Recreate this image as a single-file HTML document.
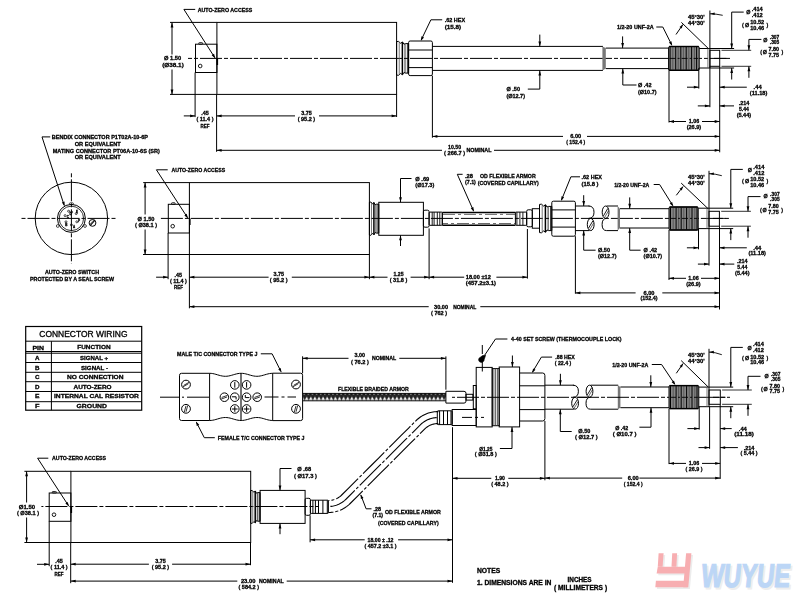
<!DOCTYPE html>
<html><head><meta charset="utf-8"><style>
html,body{margin:0;padding:0;background:#fff;}
svg{display:block;}
text{font-family:"Liberation Sans",sans-serif;}
</style></head><body>
<svg width="796" height="609" viewBox="0 0 796 609">
<rect x="0" y="0" width="796" height="609" fill="#fff"/>
<g style="filter:grayscale(1)">
<rect x="216.9" y="22.4" width="179.7" height="72" rx="0" fill="none" stroke="#000" stroke-width="1.0"/>
<line x1="170" y1="22.4" x2="216.9" y2="22.4" stroke="#000" stroke-width="1.0" />
<line x1="170" y1="94.4" x2="216.9" y2="94.4" stroke="#000" stroke-width="1.0" />
<line x1="172" y1="22.4" x2="172" y2="54.5" stroke="#000" stroke-width="1.0" />
<polygon points="172,22.4 173.4,27.4 170.6,27.4" fill="#000" stroke="none" stroke-width="1.0"/>
<line x1="172" y1="69.5" x2="172" y2="94.4" stroke="#000" stroke-width="1.0" />
<polygon points="172,94.4 170.6,89.4 173.4,89.4" fill="#000" stroke="none" stroke-width="1.0"/>
<text x="172.6" y="60.03" font-size="5.8" font-weight="bold" text-anchor="middle" textLength="17.2" lengthAdjust="spacingAndGlyphs" fill="#000" stroke="#000" stroke-width="0.3" >Ø 1.50</text>
<text x="173" y="66.73" font-size="5.8" font-weight="bold" text-anchor="middle" textLength="21.5" lengthAdjust="spacingAndGlyphs" fill="#000" stroke="#000" stroke-width="0.3" >(Ø38.1)</text>
<rect x="195.5" y="44.2" width="21.4" height="28.3" rx="0" fill="none" stroke="#000" stroke-width="1.0"/>
<rect x="198.7" y="42.6" width="4" height="1.6" rx="0.8" fill="none" stroke="#000" stroke-width="0.8"/>
<circle cx="200.2" cy="66" r="1.8" fill="none" stroke="#000" stroke-width="0.9"/>
<line x1="217.3" y1="58.4" x2="217.3" y2="65" stroke="#000" stroke-width="1.6" />
<line x1="188" y1="58.4" x2="730" y2="58.4" stroke="#000" stroke-width="1.0" stroke-dasharray="22 2 4 2" stroke-dashoffset="-12"/>
<polyline points="195.2,9.4 183.9,9.4 214.8,57.6" fill="none" stroke="#000" stroke-width="1.0" />
<polygon points="215.3,58.4 211.69,55.37 214.05,53.86" fill="#000" stroke="none" stroke-width="1.0"/>
<text x="197.7" y="12.03" font-size="5.8" font-weight="bold" text-anchor="start" textLength="54.6" lengthAdjust="spacingAndGlyphs" fill="#000" stroke="#000" stroke-width="0.3" >AUTO-ZERO ACCESS</text>
<path d="M 396.6 41.6 L 398.52 41.4 L 400.68 43.3 L 402.48 41.9 L 403.92 44.2 L 405.48 43.6 L 408.6 43.6 L 408.6 73.1 L 405.48 73.1 L 403.92 72.5 L 402.48 74.8 L 400.68 73.4 L 398.52 75.3 L 396.6 75.1 Z" fill="none" stroke="#000" stroke-width="1.0" stroke-linejoin="round"/>
<line x1="399.24" y1="42.03" x2="399.24" y2="74.67" stroke="#555" stroke-width="0.8" />
<line x1="402.36" y1="41.99" x2="402.36" y2="74.71" stroke="#000" stroke-width="1.5" />
<line x1="405" y1="43.78" x2="405" y2="72.92" stroke="#000" stroke-width="0.8" />
<line x1="407.4" y1="43.6" x2="407.4" y2="73.1" stroke="#000" stroke-width="0.8" />
<rect x="408.6" y="41" width="23.8" height="34.6" rx="1.5" fill="none" stroke="#000" stroke-width="1.0"/>
<line x1="408.6" y1="50" x2="432.4" y2="50" stroke="#000" stroke-width="1.0" />
<line x1="408.6" y1="67.6" x2="432.4" y2="67.6" stroke="#000" stroke-width="1.0" />
<line x1="432.4" y1="46.4" x2="603" y2="46.4" stroke="#000" stroke-width="1.0" />
<line x1="432.4" y1="70.4" x2="603" y2="70.4" stroke="#000" stroke-width="1.0" />
<polygon points="602.4,46.4 605.8,48.1 605.8,68.6 602.4,70.4" fill="#777" stroke="none" stroke-width="1.0"/>
<line x1="605.8" y1="48.1" x2="669" y2="48.1" stroke="#000" stroke-width="1.0" />
<line x1="605.8" y1="68.6" x2="669" y2="68.6" stroke="#000" stroke-width="1.0" />
<polyline points="442.2,19.8 430.9,19.8 421.2,40" fill="none" stroke="#000" stroke-width="1.0" />
<polygon points="420.8,40.9 421.49,36.24 424.01,37.45" fill="#000" stroke="none" stroke-width="1.0"/>
<text x="444.7" y="22.33" font-size="5.8" font-weight="bold" text-anchor="start" textLength="20.5" lengthAdjust="spacingAndGlyphs" fill="#000" stroke="#000" stroke-width="0.3" >.62 HEX</text>
<text x="444.7" y="28.63" font-size="5.8" font-weight="bold" text-anchor="start" textLength="16.5" lengthAdjust="spacingAndGlyphs" fill="#000" stroke="#000" stroke-width="0.3" >(15.8)</text>
<line x1="539.8" y1="34.6" x2="539.8" y2="46.4" stroke="#000" stroke-width="1.0" />
<polygon points="539.8,46.4 538.4,41.4 541.2,41.4" fill="#000" stroke="none" stroke-width="1.0"/>
<line x1="539.8" y1="70.4" x2="539.8" y2="89.1" stroke="#000" stroke-width="1.0" />
<polygon points="539.8,70.4 541.2,75.4 538.4,75.4" fill="#000" stroke="none" stroke-width="1.0"/>
<line x1="527.8" y1="89.1" x2="539.8" y2="89.1" stroke="#000" stroke-width="1.0" />
<text x="506.4" y="91.13" font-size="5.8" font-weight="bold" text-anchor="start" textLength="13.6" lengthAdjust="spacingAndGlyphs" fill="#000" stroke="#000" stroke-width="0.3" >Ø .50</text>
<text x="506.4" y="97.63" font-size="5.8" font-weight="bold" text-anchor="start" textLength="18.6" lengthAdjust="spacingAndGlyphs" fill="#000" stroke="#000" stroke-width="0.3" >(Ø12.7)</text>
<line x1="622.6" y1="36.4" x2="622.6" y2="48.1" stroke="#000" stroke-width="1.0" />
<polygon points="622.6,48.1 621.2,43.1 624,43.1" fill="#000" stroke="none" stroke-width="1.0"/>
<line x1="622.8" y1="68.6" x2="622.8" y2="85" stroke="#000" stroke-width="1.0" />
<polygon points="622.8,68.6 624.2,73.6 621.4,73.6" fill="#000" stroke="none" stroke-width="1.0"/>
<line x1="622.8" y1="85" x2="636.5" y2="85" stroke="#000" stroke-width="1.0" />
<text x="638" y="87.03" font-size="5.8" font-weight="bold" text-anchor="start" textLength="13.5" lengthAdjust="spacingAndGlyphs" fill="#000" stroke="#000" stroke-width="0.3" >Ø .42</text>
<text x="638" y="93.83" font-size="5.8" font-weight="bold" text-anchor="start" textLength="18.5" lengthAdjust="spacingAndGlyphs" fill="#000" stroke="#000" stroke-width="0.3" >(Ø10.7)</text>
<text x="617" y="29.03" font-size="5.8" font-weight="bold" text-anchor="start" textLength="36.8" lengthAdjust="spacingAndGlyphs" fill="#000" stroke="#000" stroke-width="0.3" >1/2-20 UNF-2A</text>
<polyline points="656.3,27 662.8,27 671.6,44.6" fill="none" stroke="#000" stroke-width="1.0" />
<polygon points="672.2,45.9 668.94,42.49 671.45,41.25" fill="#000" stroke="none" stroke-width="1.0"/>
<rect x="668.6" y="46.5" width="30.6" height="23.8" rx="1.2" fill="#858585" stroke="#000" stroke-width="1.0"/>
<line x1="670.1" y1="47" x2="670.1" y2="69.8" stroke="#000" stroke-width="1.0" />
<line x1="672.8" y1="47" x2="672.8" y2="69.8" stroke="#444" stroke-width="0.7" />
<line x1="675.7" y1="47" x2="675.7" y2="69.8" stroke="#000" stroke-width="1.0" />
<line x1="678.2" y1="47" x2="678.2" y2="69.8" stroke="#444" stroke-width="0.7" />
<line x1="680.8" y1="47" x2="680.8" y2="69.8" stroke="#000" stroke-width="1.0" />
<line x1="683.4" y1="47" x2="683.4" y2="69.8" stroke="#444" stroke-width="0.7" />
<line x1="686.2" y1="47" x2="686.2" y2="69.8" stroke="#000" stroke-width="1.0" />
<line x1="688.8" y1="47" x2="688.8" y2="69.8" stroke="#444" stroke-width="0.7" />
<line x1="691.6" y1="47" x2="691.6" y2="69.8" stroke="#000" stroke-width="1.0" />
<line x1="694.4" y1="47" x2="694.4" y2="69.8" stroke="#444" stroke-width="0.7" />
<line x1="696.6" y1="47" x2="696.6" y2="69.8" stroke="#000" stroke-width="1.0" />
<line x1="669.1" y1="46.5" x2="698.7" y2="46.5" stroke="#000" stroke-width="1.4" />
<line x1="669.1" y1="70.3" x2="698.7" y2="70.3" stroke="#000" stroke-width="1.4" />
<line x1="669.6" y1="58.4" x2="698.2" y2="58.4" stroke="#000" stroke-width="0.9" stroke-dasharray="6 2 2 2"/>
<line x1="699.2" y1="48.5" x2="709.9" y2="48.5" stroke="#000" stroke-width="1.0" />
<line x1="699.2" y1="68" x2="709.9" y2="68" stroke="#000" stroke-width="1.0" />
<line x1="707.9" y1="48.5" x2="707.9" y2="68" stroke="#555" stroke-width="0.8" />
<rect x="709.9" y="50.3" width="9.8" height="16" rx="0" fill="none" stroke="#000" stroke-width="1.0"/>
<line x1="709.9" y1="48.5" x2="734.1" y2="48.5" stroke="#000" stroke-width="1.0" />
<line x1="709.9" y1="68" x2="734.1" y2="68" stroke="#000" stroke-width="1.0" />
<line x1="721.5" y1="50.3" x2="751.2" y2="50.3" stroke="#333" stroke-width="1.0" />
<line x1="721.5" y1="66.3" x2="751.2" y2="66.3" stroke="#333" stroke-width="1.0" />
<line x1="713.9" y1="58.4" x2="726.4" y2="58.4" stroke="#000" stroke-width="0.9" />
<line x1="731.7" y1="12.1" x2="731.7" y2="48.5" stroke="#000" stroke-width="1.0" />
<polygon points="731.7,48.5 730.3,43.5 733.1,43.5" fill="#000" stroke="none" stroke-width="1.0"/>
<line x1="731.7" y1="12.1" x2="743.7" y2="12.1" stroke="#000" stroke-width="1.0" />
<line x1="731.7" y1="68" x2="731.7" y2="79.5" stroke="#000" stroke-width="1.0" />
<polygon points="731.7,68 733.1,73 730.3,73" fill="#000" stroke="none" stroke-width="1.0"/>
<line x1="748.9" y1="39.4" x2="748.9" y2="50.3" stroke="#000" stroke-width="1.0" />
<polygon points="748.9,50.3 747.5,45.3 750.3,45.3" fill="#000" stroke="none" stroke-width="1.0"/>
<line x1="748.9" y1="39.4" x2="761.4" y2="39.4" stroke="#000" stroke-width="1.0" />
<line x1="748.9" y1="66.3" x2="748.9" y2="77.8" stroke="#000" stroke-width="1.0" />
<polygon points="748.9,66.3 750.3,71.3 747.5,71.3" fill="#000" stroke="none" stroke-width="1.0"/>
<line x1="681.4" y1="22.4" x2="708" y2="48.2" stroke="#000" stroke-width="1.0" />
<line x1="676" y1="34.5" x2="682.9" y2="24.5" stroke="#000" stroke-width="1.0" />
<polygon points="682.9,24.5 681.78,28.59 679.48,27" fill="#000" stroke="none" stroke-width="1.0"/>
<path d="M 709.9 13.8 Q 715.9 13.8 722.7 15.3" fill="none" stroke="#000" stroke-width="0.9" />
<polygon points="710.2,13.8 714.7,12.5 714.7,15.1" fill="#000" stroke="none" stroke-width="1.0"/>
<line x1="709.9" y1="10.5" x2="709.9" y2="68" stroke="#000" stroke-width="1.0" />
<text x="688" y="19.16" font-size="5.6" font-weight="bold" text-anchor="start" textLength="16.7" lengthAdjust="spacingAndGlyphs" fill="#000" stroke="#000" stroke-width="0.3" >45°30'</text>
<text x="688" y="25.06" font-size="5.6" font-weight="bold" text-anchor="start" textLength="16.7" lengthAdjust="spacingAndGlyphs" fill="#000" stroke="#000" stroke-width="0.3" >44°30'</text>
<text x="746.2" y="14.2" font-size="6" font-weight="bold" text-anchor="start" textLength="4.2" lengthAdjust="spacingAndGlyphs" fill="#000" stroke="#000" stroke-width="0.3" >Ø</text>
<text x="751.7" y="11.46" font-size="5.6" font-weight="bold" text-anchor="start" textLength="11" lengthAdjust="spacingAndGlyphs" fill="#000" stroke="#000" stroke-width="0.3" >.414</text>
<text x="751.7" y="17.26" font-size="5.6" font-weight="bold" text-anchor="start" textLength="11" lengthAdjust="spacingAndGlyphs" fill="#000" stroke="#000" stroke-width="0.3" >.412</text>
<text x="741.9" y="26.77" font-size="6.2" font-weight="bold" text-anchor="start" textLength="1.8" lengthAdjust="spacingAndGlyphs" fill="#000" stroke="#000" stroke-width="0.3" >(</text>
<text x="744.9" y="26.7" font-size="6" font-weight="bold" text-anchor="start" textLength="4.2" lengthAdjust="spacingAndGlyphs" fill="#000" stroke="#000" stroke-width="0.3" >Ø</text>
<text x="750.2" y="24.26" font-size="5.6" font-weight="bold" text-anchor="start" textLength="14" lengthAdjust="spacingAndGlyphs" fill="#000" stroke="#000" stroke-width="0.3" >10.52</text>
<text x="750.2" y="29.86" font-size="5.6" font-weight="bold" text-anchor="start" textLength="14" lengthAdjust="spacingAndGlyphs" fill="#000" stroke="#000" stroke-width="0.3" >10.46</text>
<text x="766.5" y="26.77" font-size="6.2" font-weight="bold" text-anchor="start" textLength="1.8" lengthAdjust="spacingAndGlyphs" fill="#000" stroke="#000" stroke-width="0.3" >)</text>
<text x="763.2" y="42.3" font-size="6" font-weight="bold" text-anchor="start" textLength="4.2" lengthAdjust="spacingAndGlyphs" fill="#000" stroke="#000" stroke-width="0.3" >Ø</text>
<text x="769.8" y="39.36" font-size="5.6" font-weight="bold" text-anchor="start" textLength="9.5" lengthAdjust="spacingAndGlyphs" fill="#000" stroke="#000" stroke-width="0.3" >.307</text>
<text x="769.8" y="44.36" font-size="5.6" font-weight="bold" text-anchor="start" textLength="9.5" lengthAdjust="spacingAndGlyphs" fill="#000" stroke="#000" stroke-width="0.3" >.305</text>
<text x="760.2" y="54.47" font-size="6.2" font-weight="bold" text-anchor="start" textLength="1.8" lengthAdjust="spacingAndGlyphs" fill="#000" stroke="#000" stroke-width="0.3" >(</text>
<text x="762.7" y="54.4" font-size="6" font-weight="bold" text-anchor="start" textLength="4.2" lengthAdjust="spacingAndGlyphs" fill="#000" stroke="#000" stroke-width="0.3" >Ø</text>
<text x="768.5" y="51.16" font-size="5.6" font-weight="bold" text-anchor="start" textLength="10.5" lengthAdjust="spacingAndGlyphs" fill="#000" stroke="#000" stroke-width="0.3" >7.80</text>
<text x="768.5" y="57.06" font-size="5.6" font-weight="bold" text-anchor="start" textLength="10.5" lengthAdjust="spacingAndGlyphs" fill="#000" stroke="#000" stroke-width="0.3" >7.75</text>
<text x="781.6" y="54.47" font-size="6.2" font-weight="bold" text-anchor="start" textLength="1.8" lengthAdjust="spacingAndGlyphs" fill="#000" stroke="#000" stroke-width="0.3" >)</text>
<line x1="195.1" y1="72.5" x2="195.1" y2="117.1" stroke="#000" stroke-width="1.0" />
<line x1="216.6" y1="94.4" x2="216.6" y2="151.8" stroke="#000" stroke-width="1.0" />
<line x1="396.6" y1="94.4" x2="396.6" y2="117" stroke="#000" stroke-width="1.0" />
<line x1="432.4" y1="75.6" x2="432.4" y2="137.7" stroke="#000" stroke-width="1.0" />
<line x1="669" y1="69.5" x2="669" y2="122.5" stroke="#000" stroke-width="1.0" />
<line x1="698.8" y1="68" x2="698.8" y2="88.6" stroke="#000" stroke-width="1.0" />
<line x1="709.9" y1="66.3" x2="709.9" y2="107.2" stroke="#000" stroke-width="1.0" />
<line x1="719.7" y1="66.3" x2="719.7" y2="152.3" stroke="#000" stroke-width="1.0" />
<line x1="183.8" y1="115.9" x2="195.1" y2="115.9" stroke="#000" stroke-width="1.0" />
<polygon points="195.1,115.9 190.1,117.3 190.1,114.5" fill="#000" stroke="none" stroke-width="1.0"/>
<text x="204.9" y="114.86" font-size="5.6" font-weight="bold" text-anchor="middle" textLength="7.5" lengthAdjust="spacingAndGlyphs" fill="#000" stroke="#000" stroke-width="0.3" >.45</text>
<text x="205" y="120.96" font-size="5.6" font-weight="bold" text-anchor="middle" textLength="17" lengthAdjust="spacingAndGlyphs" fill="#000" stroke="#000" stroke-width="0.3" >( 11.4 )</text>
<text x="205" y="128.16" font-size="5.6" font-weight="bold" text-anchor="middle" textLength="9" lengthAdjust="spacingAndGlyphs" fill="#000" stroke="#000" stroke-width="0.3" >REF</text>
<line x1="216.6" y1="115.9" x2="295" y2="115.9" stroke="#000" stroke-width="1.0" />
<polygon points="216.6,115.9 221.6,114.5 221.6,117.3" fill="#000" stroke="none" stroke-width="1.0"/>
<line x1="319" y1="115.9" x2="396.6" y2="115.9" stroke="#000" stroke-width="1.0" />
<polygon points="396.6,115.9 391.6,117.3 391.6,114.5" fill="#000" stroke="none" stroke-width="1.0"/>
<text x="306.4" y="114.96" font-size="5.6" font-weight="bold" text-anchor="middle" textLength="10.5" lengthAdjust="spacingAndGlyphs" fill="#000" stroke="#000" stroke-width="0.3" >3.75</text>
<text x="306.4" y="120.76" font-size="5.6" font-weight="bold" text-anchor="middle" textLength="17.5" lengthAdjust="spacingAndGlyphs" fill="#000" stroke="#000" stroke-width="0.3" >( 95.2 )</text>
<line x1="432.4" y1="136.4" x2="563" y2="136.4" stroke="#000" stroke-width="1.0" />
<polygon points="432.4,136.4 437.4,135 437.4,137.8" fill="#000" stroke="none" stroke-width="1.0"/>
<line x1="587" y1="136.4" x2="719.7" y2="136.4" stroke="#000" stroke-width="1.0" />
<polygon points="719.7,136.4 714.7,137.8 714.7,135" fill="#000" stroke="none" stroke-width="1.0"/>
<text x="575.7" y="137.56" font-size="5.6" font-weight="bold" text-anchor="middle" textLength="11" lengthAdjust="spacingAndGlyphs" fill="#000" stroke="#000" stroke-width="0.3" >6.00</text>
<text x="575.7" y="143.86" font-size="5.6" font-weight="bold" text-anchor="middle" textLength="19" lengthAdjust="spacingAndGlyphs" fill="#000" stroke="#000" stroke-width="0.3" >( 152.4 )</text>
<line x1="216.6" y1="150.3" x2="442" y2="150.3" stroke="#000" stroke-width="1.0" />
<polygon points="216.6,150.3 221.6,148.9 221.6,151.7" fill="#000" stroke="none" stroke-width="1.0"/>
<line x1="494" y1="150.3" x2="719.7" y2="150.3" stroke="#000" stroke-width="1.0" />
<polygon points="719.7,150.3 714.7,151.7 714.7,148.9" fill="#000" stroke="none" stroke-width="1.0"/>
<text x="454.6" y="149.16" font-size="5.6" font-weight="bold" text-anchor="middle" textLength="13" lengthAdjust="spacingAndGlyphs" fill="#000" stroke="#000" stroke-width="0.3" >10.50</text>
<text x="454.6" y="155.46" font-size="5.6" font-weight="bold" text-anchor="middle" textLength="21" lengthAdjust="spacingAndGlyphs" fill="#000" stroke="#000" stroke-width="0.3" >( 266.7 )</text>
<text x="466.4" y="152.16" font-size="5.6" font-weight="bold" text-anchor="start" textLength="25.1" lengthAdjust="spacingAndGlyphs" fill="#000" stroke="#000" stroke-width="0.3" >NOMINAL</text>
<line x1="669" y1="121.5" x2="686" y2="121.5" stroke="#000" stroke-width="1.0" />
<polygon points="669,121.5 674,120.1 674,122.9" fill="#000" stroke="none" stroke-width="1.0"/>
<line x1="702" y1="121.5" x2="719.7" y2="121.5" stroke="#000" stroke-width="1.0" />
<polygon points="719.7,121.5 714.7,122.9 714.7,120.1" fill="#000" stroke="none" stroke-width="1.0"/>
<text x="693.9" y="123.46" font-size="5.6" font-weight="bold" text-anchor="middle" textLength="10.5" lengthAdjust="spacingAndGlyphs" fill="#000" stroke="#000" stroke-width="0.3" >1.06</text>
<text x="693.9" y="129.16" font-size="5.6" font-weight="bold" text-anchor="middle" textLength="14.5" lengthAdjust="spacingAndGlyphs" fill="#000" stroke="#000" stroke-width="0.3" >(26.9)</text>
<line x1="687" y1="87.2" x2="698.8" y2="87.2" stroke="#000" stroke-width="1.0" />
<polygon points="698.8,87.2 693.8,88.6 693.8,85.8" fill="#000" stroke="none" stroke-width="1.0"/>
<line x1="719.7" y1="87.2" x2="746.8" y2="87.2" stroke="#000" stroke-width="1.0" />
<polygon points="719.7,87.2 724.7,85.8 724.7,88.6" fill="#000" stroke="none" stroke-width="1.0"/>
<text x="757.6" y="88.66" font-size="5.6" font-weight="bold" text-anchor="middle" textLength="8" lengthAdjust="spacingAndGlyphs" fill="#000" stroke="#000" stroke-width="0.3" >.44</text>
<text x="758.6" y="95.06" font-size="5.6" font-weight="bold" text-anchor="middle" textLength="17.5" lengthAdjust="spacingAndGlyphs" fill="#000" stroke="#000" stroke-width="0.3" >(11.18)</text>
<line x1="697.8" y1="105.9" x2="709.9" y2="105.9" stroke="#000" stroke-width="1.0" />
<polygon points="709.9,105.9 704.9,107.3 704.9,104.5" fill="#000" stroke="none" stroke-width="1.0"/>
<line x1="719.7" y1="105.9" x2="734" y2="105.9" stroke="#000" stroke-width="1.0" />
<polygon points="719.7,105.9 724.7,104.5 724.7,107.3" fill="#000" stroke="none" stroke-width="1.0"/>
<text x="743.9" y="104.86" font-size="5.6" font-weight="bold" text-anchor="middle" textLength="10.5" lengthAdjust="spacingAndGlyphs" fill="#000" stroke="#000" stroke-width="0.3" >.214</text>
<text x="743.9" y="110.76" font-size="5.6" font-weight="bold" text-anchor="middle" textLength="10" lengthAdjust="spacingAndGlyphs" fill="#000" stroke="#000" stroke-width="0.3" >5.44</text>
<text x="743.9" y="116.96" font-size="5.6" font-weight="bold" text-anchor="middle" textLength="14.5" lengthAdjust="spacingAndGlyphs" fill="#000" stroke="#000" stroke-width="0.3" >(5.44)</text>
<rect x="189.4" y="182.6" width="180" height="71.9" rx="0" fill="none" stroke="#000" stroke-width="1.0"/>
<line x1="143.2" y1="182.6" x2="189.4" y2="182.6" stroke="#000" stroke-width="1.0" />
<line x1="143" y1="254.5" x2="189.4" y2="254.5" stroke="#000" stroke-width="1.0" />
<line x1="145.1" y1="182.6" x2="145.1" y2="214.5" stroke="#000" stroke-width="1.0" />
<polygon points="145.1,182.6 146.5,187.6 143.7,187.6" fill="#000" stroke="none" stroke-width="1.0"/>
<line x1="145.1" y1="229.5" x2="145.1" y2="254.5" stroke="#000" stroke-width="1.0" />
<polygon points="145.1,254.5 143.7,249.5 146.5,249.5" fill="#000" stroke="none" stroke-width="1.0"/>
<text x="146" y="220.73" font-size="5.8" font-weight="bold" text-anchor="middle" textLength="17" lengthAdjust="spacingAndGlyphs" fill="#000" stroke="#000" stroke-width="0.3" >Ø 1.50</text>
<text x="146" y="226.73" font-size="5.8" font-weight="bold" text-anchor="middle" textLength="22" lengthAdjust="spacingAndGlyphs" fill="#000" stroke="#000" stroke-width="0.3" >( Ø38.1 )</text>
<rect x="168.3" y="204.3" width="21.1" height="28.7" rx="0" fill="none" stroke="#000" stroke-width="1.0"/>
<rect x="171.5" y="202.7" width="3.7" height="1.6" rx="0.8" fill="none" stroke="#000" stroke-width="0.8"/>
<circle cx="172.7" cy="226.2" r="1.8" fill="none" stroke="#000" stroke-width="0.9"/>
<line x1="189.8" y1="218.4" x2="189.8" y2="225" stroke="#000" stroke-width="1.6" />
<line x1="158.9" y1="218.4" x2="730" y2="218.4" stroke="#000" stroke-width="1.0" stroke-dasharray="22 2 4 2" stroke-dashoffset="-2"/>
<polyline points="167.7,169.8 156.4,169.8 187.5,217.6" fill="none" stroke="#000" stroke-width="1.0" />
<polygon points="188,218.4 184.37,215.39 186.72,213.86" fill="#000" stroke="none" stroke-width="1.0"/>
<text x="171.5" y="171.83" font-size="5.8" font-weight="bold" text-anchor="start" textLength="53.6" lengthAdjust="spacingAndGlyphs" fill="#000" stroke="#000" stroke-width="0.3" >AUTO-ZERO ACCESS</text>
<path d="M 369.4 202.2 L 370.9 202 L 372.6 203.9 L 374.01 202.5 L 375.13 204.8 L 376.36 204.2 L 378.8 204.2 L 378.8 233.1 L 376.36 233.1 L 375.13 232.5 L 374.01 234.8 L 372.6 233.4 L 370.9 235.3 L 369.4 235.1 Z" fill="none" stroke="#000" stroke-width="1.0" stroke-linejoin="round"/>
<line x1="371.47" y1="202.63" x2="371.47" y2="234.67" stroke="#555" stroke-width="0.8" />
<line x1="373.91" y1="202.59" x2="373.91" y2="234.71" stroke="#000" stroke-width="1.5" />
<line x1="375.98" y1="204.38" x2="375.98" y2="232.92" stroke="#000" stroke-width="0.8" />
<line x1="377.86" y1="204.2" x2="377.86" y2="233.1" stroke="#000" stroke-width="0.8" />
<rect x="378.8" y="202.3" width="44.6" height="33" rx="0" fill="none" stroke="#000" stroke-width="1.0"/>
<rect x="423.4" y="210.2" width="5.7" height="17" rx="1.5" fill="none" stroke="#000" stroke-width="1.0"/>
<rect x="429.1" y="212.1" width="13.2" height="13.2" rx="0.8" fill="none" stroke="#000" stroke-width="1.0"/>
<line x1="432.2" y1="212.1" x2="432.2" y2="225.3" stroke="#000" stroke-width="0.9" />
<line x1="434.1" y1="212.1" x2="434.1" y2="225.3" stroke="#000" stroke-width="0.9" />
<line x1="437.3" y1="212.1" x2="437.3" y2="225.3" stroke="#000" stroke-width="0.9" />
<line x1="439.8" y1="212.1" x2="439.8" y2="225.3" stroke="#000" stroke-width="0.9" />
<line x1="442.3" y1="212.6" x2="515.4" y2="212.6" stroke="#000" stroke-width="1.5" />
<line x1="442.3" y1="225.2" x2="515.4" y2="225.2" stroke="#000" stroke-width="1.5" />
<line x1="443" y1="214.4" x2="515" y2="214.4" stroke="#444" stroke-width="0.8" stroke-dasharray="12 3 3 3"/>
<line x1="443" y1="223.5" x2="515" y2="223.5" stroke="#444" stroke-width="0.8" stroke-dasharray="12 3 3 3" stroke-dashoffset="7"/>
<line x1="442.3" y1="212.6" x2="442.3" y2="225.2" stroke="#000" stroke-width="1.0" />
<rect x="515.4" y="212.1" width="11.3" height="13.2" rx="0.8" fill="none" stroke="#000" stroke-width="1.0"/>
<line x1="516.9" y1="212.1" x2="516.9" y2="225.3" stroke="#000" stroke-width="0.9" />
<line x1="519.9" y1="212.1" x2="519.9" y2="225.3" stroke="#000" stroke-width="0.9" />
<line x1="522.9" y1="212.1" x2="522.9" y2="225.3" stroke="#000" stroke-width="0.9" />
<rect x="526.7" y="209.8" width="5.6" height="17" rx="1.5" fill="none" stroke="#000" stroke-width="1.0"/>
<rect x="532.3" y="208.7" width="7.2" height="19.5" rx="0" fill="none" stroke="#000" stroke-width="1.0"/>
<path d="M 539.5 204.4 L 541.47 204.2 L 543.68 206.1 L 545.53 204.7 L 547 207 L 548.6 206.4 L 551.8 206.4 L 551.8 230.6 L 548.6 230.6 L 547 230 L 545.53 232.3 L 543.68 230.9 L 541.47 232.8 L 539.5 232.6 Z" fill="none" stroke="#000" stroke-width="1.0" stroke-linejoin="round"/>
<line x1="542.21" y1="204.83" x2="542.21" y2="232.17" stroke="#555" stroke-width="0.8" />
<line x1="545.4" y1="204.79" x2="545.4" y2="232.21" stroke="#000" stroke-width="1.5" />
<line x1="548.11" y1="206.58" x2="548.11" y2="230.42" stroke="#000" stroke-width="0.8" />
<line x1="550.57" y1="206.4" x2="550.57" y2="230.6" stroke="#000" stroke-width="0.8" />
<rect x="551.8" y="201.2" width="23.6" height="35" rx="1.5" fill="none" stroke="#000" stroke-width="1.0"/>
<line x1="551.8" y1="209.9" x2="575.4" y2="209.9" stroke="#000" stroke-width="1.0" />
<line x1="551.8" y1="227.1" x2="575.4" y2="227.1" stroke="#000" stroke-width="1.0" />
<line x1="575.4" y1="206" x2="589.5" y2="206" stroke="#000" stroke-width="1.0" />
<line x1="575.4" y1="230.6" x2="589.5" y2="230.6" stroke="#000" stroke-width="1.0" />
<path d="M 588.5 206 Q 594 206 594 212.2 Q 594 218.4 588.5 218.4" fill="none" stroke="#000" stroke-width="1.0" />
<ellipse cx="590.7" cy="224.5" rx="3.4" ry="6.1" fill="none" stroke="#000" stroke-width="1"/>
<line x1="588.5" y1="228.16" x2="592.9" y2="220.84" stroke="#000" stroke-width="0.9" />
<line x1="589.7" y1="229.69" x2="593.5" y2="223.28" stroke="#000" stroke-width="0.6" />
<ellipse cx="605.6" cy="212.2" rx="3.4" ry="6.2" fill="none" stroke="#000" stroke-width="1"/>
<line x1="603.4" y1="215.92" x2="607.8" y2="208.48" stroke="#000" stroke-width="0.9" />
<line x1="604.6" y1="217.47" x2="608.4" y2="210.96" stroke="#000" stroke-width="0.6" />
<path d="M 606.6 218.4 Q 602.1 218.4 602.1 224.5 Q 602.1 230.6 606.6 230.6" fill="none" stroke="#000" stroke-width="1.0" />
<line x1="593" y1="218.4" x2="603.1" y2="218.4" stroke="#000" stroke-width="1.0" />
<line x1="606.6" y1="206" x2="618" y2="206" stroke="#000" stroke-width="1.0" />
<line x1="606.6" y1="230.6" x2="618" y2="230.6" stroke="#000" stroke-width="1.0" />
<polygon points="617.6,206 620,208.7 620,228 617.6,230.6" fill="#777" stroke="none" stroke-width="1.0"/>
<line x1="620" y1="208.7" x2="669" y2="208.7" stroke="#000" stroke-width="1.0" />
<line x1="620" y1="228" x2="669" y2="228" stroke="#000" stroke-width="1.0" />
<line x1="583.7" y1="195.2" x2="583.7" y2="206" stroke="#000" stroke-width="1.0" />
<polygon points="583.7,206 582.3,201 585.1,201" fill="#000" stroke="none" stroke-width="1.0"/>
<line x1="583.7" y1="230.6" x2="583.7" y2="250.2" stroke="#000" stroke-width="1.0" />
<polygon points="583.7,230.6 585.1,235.6 582.3,235.6" fill="#000" stroke="none" stroke-width="1.0"/>
<line x1="583.7" y1="250.2" x2="595.6" y2="250.2" stroke="#000" stroke-width="1.0" />
<text x="598" y="252.23" font-size="5.8" font-weight="bold" text-anchor="start" textLength="12" lengthAdjust="spacingAndGlyphs" fill="#000" stroke="#000" stroke-width="0.3" >Ø.50</text>
<text x="598" y="258.13" font-size="5.8" font-weight="bold" text-anchor="start" textLength="18.5" lengthAdjust="spacingAndGlyphs" fill="#000" stroke="#000" stroke-width="0.3" >(Ø12.7)</text>
<line x1="629.7" y1="197.4" x2="629.7" y2="208.7" stroke="#000" stroke-width="1.0" />
<polygon points="629.7,208.7 628.3,203.7 631.1,203.7" fill="#000" stroke="none" stroke-width="1.0"/>
<line x1="629.7" y1="228" x2="629.7" y2="250.2" stroke="#000" stroke-width="1.0" />
<polygon points="629.7,228 631.1,233 628.3,233" fill="#000" stroke="none" stroke-width="1.0"/>
<line x1="629.7" y1="250.2" x2="640.6" y2="250.2" stroke="#000" stroke-width="1.0" />
<text x="643.6" y="252.03" font-size="5.8" font-weight="bold" text-anchor="start" textLength="13.5" lengthAdjust="spacingAndGlyphs" fill="#000" stroke="#000" stroke-width="0.3" >Ø .42</text>
<text x="643.6" y="258.13" font-size="5.8" font-weight="bold" text-anchor="start" textLength="18.5" lengthAdjust="spacingAndGlyphs" fill="#000" stroke="#000" stroke-width="0.3" >(Ø10.7)</text>
<line x1="400.5" y1="178.5" x2="400.5" y2="202.3" stroke="#000" stroke-width="1.0" />
<polygon points="400.5,202.3 399.1,197.3 401.9,197.3" fill="#000" stroke="none" stroke-width="1.0"/>
<line x1="400.5" y1="178.5" x2="411.5" y2="178.5" stroke="#000" stroke-width="1.0" />
<line x1="400.5" y1="235.3" x2="400.5" y2="246" stroke="#000" stroke-width="1.0" />
<polygon points="400.5,235.3 401.9,240.3 399.1,240.3" fill="#000" stroke="none" stroke-width="1.0"/>
<text x="415.3" y="180.83" font-size="5.8" font-weight="bold" text-anchor="start" textLength="14" lengthAdjust="spacingAndGlyphs" fill="#000" stroke="#000" stroke-width="0.3" >Ø .69</text>
<text x="415.3" y="187.33" font-size="5.8" font-weight="bold" text-anchor="start" textLength="19" lengthAdjust="spacingAndGlyphs" fill="#000" stroke="#000" stroke-width="0.3" >(Ø17.3)</text>
<polyline points="462.6,174.3 457.3,174.3 473.5,210.8" fill="none" stroke="#000" stroke-width="1.0" />
<polygon points="473.9,211.7 470.79,208.15 473.35,207.02" fill="#000" stroke="none" stroke-width="1.0"/>
<text x="464.9" y="177.56" font-size="5.6" font-weight="bold" text-anchor="start" textLength="8" lengthAdjust="spacingAndGlyphs" fill="#000" stroke="#000" stroke-width="0.3" >.28</text>
<text x="464.9" y="183.56" font-size="5.6" font-weight="bold" text-anchor="start" textLength="11" lengthAdjust="spacingAndGlyphs" fill="#000" stroke="#000" stroke-width="0.3" >(7.1)</text>
<text x="480" y="178.33" font-size="5.8" font-weight="bold" text-anchor="start" textLength="55.7" lengthAdjust="spacingAndGlyphs" fill="#000" stroke="#000" stroke-width="0.3" >OD FLEXIBLE ARMOR</text>
<text x="477.7" y="185.13" font-size="5.8" font-weight="bold" text-anchor="start" textLength="61" lengthAdjust="spacingAndGlyphs" fill="#000" stroke="#000" stroke-width="0.3" >(COVERED CAPILLARY)</text>
<polyline points="580,176.8 570.9,176.8 561.5,200" fill="none" stroke="#000" stroke-width="1.0" />
<polygon points="561.1,200.9 561.5,196.2 564.09,197.26" fill="#000" stroke="none" stroke-width="1.0"/>
<text x="581.5" y="178.83" font-size="5.8" font-weight="bold" text-anchor="start" textLength="20.5" lengthAdjust="spacingAndGlyphs" fill="#000" stroke="#000" stroke-width="0.3" >.62 HEX</text>
<text x="581.5" y="185.83" font-size="5.8" font-weight="bold" text-anchor="start" textLength="17" lengthAdjust="spacingAndGlyphs" fill="#000" stroke="#000" stroke-width="0.3" >(15.8 )</text>
<text x="614.2" y="186.93" font-size="5.8" font-weight="bold" text-anchor="start" textLength="35.1" lengthAdjust="spacingAndGlyphs" fill="#000" stroke="#000" stroke-width="0.3" >1/2-20 UNF-2A</text>
<polyline points="653.7,184.5 659.6,184.5 672.7,205.4" fill="none" stroke="#000" stroke-width="1.0" />
<polygon points="673.3,206.6 669.74,203.51 672.12,202.04" fill="#000" stroke="none" stroke-width="1.0"/>
<rect x="669" y="207" width="29.2" height="23" rx="1.2" fill="#858585" stroke="#000" stroke-width="1.0"/>
<line x1="670.5" y1="207.5" x2="670.5" y2="229.5" stroke="#000" stroke-width="1.0" />
<line x1="673.2" y1="207.5" x2="673.2" y2="229.5" stroke="#444" stroke-width="0.7" />
<line x1="676.1" y1="207.5" x2="676.1" y2="229.5" stroke="#000" stroke-width="1.0" />
<line x1="678.6" y1="207.5" x2="678.6" y2="229.5" stroke="#444" stroke-width="0.7" />
<line x1="681.2" y1="207.5" x2="681.2" y2="229.5" stroke="#000" stroke-width="1.0" />
<line x1="683.8" y1="207.5" x2="683.8" y2="229.5" stroke="#444" stroke-width="0.7" />
<line x1="686.6" y1="207.5" x2="686.6" y2="229.5" stroke="#000" stroke-width="1.0" />
<line x1="689.2" y1="207.5" x2="689.2" y2="229.5" stroke="#444" stroke-width="0.7" />
<line x1="692" y1="207.5" x2="692" y2="229.5" stroke="#000" stroke-width="1.0" />
<line x1="694.8" y1="207.5" x2="694.8" y2="229.5" stroke="#444" stroke-width="0.7" />
<line x1="697" y1="207.5" x2="697" y2="229.5" stroke="#000" stroke-width="1.0" />
<line x1="669.5" y1="207" x2="697.7" y2="207" stroke="#000" stroke-width="1.4" />
<line x1="669.5" y1="230" x2="697.7" y2="230" stroke="#000" stroke-width="1.4" />
<line x1="670" y1="218.4" x2="697.2" y2="218.4" stroke="#000" stroke-width="0.9" stroke-dasharray="6 2 2 2"/>
<line x1="698.2" y1="208.2" x2="709" y2="208.2" stroke="#000" stroke-width="1.0" />
<line x1="698.2" y1="228.6" x2="709" y2="228.6" stroke="#000" stroke-width="1.0" />
<line x1="707" y1="208.2" x2="707" y2="228.6" stroke="#555" stroke-width="0.8" />
<rect x="709" y="211.3" width="10.4" height="14.9" rx="0" fill="none" stroke="#000" stroke-width="1.0"/>
<line x1="709" y1="208.2" x2="733.2" y2="208.2" stroke="#000" stroke-width="1.0" />
<line x1="709" y1="228.6" x2="733.2" y2="228.6" stroke="#000" stroke-width="1.0" />
<line x1="721.2" y1="211.3" x2="750.9" y2="211.3" stroke="#333" stroke-width="1.0" />
<line x1="721.2" y1="226.2" x2="750.9" y2="226.2" stroke="#333" stroke-width="1.0" />
<line x1="713" y1="218.4" x2="725.5" y2="218.4" stroke="#000" stroke-width="0.9" />
<line x1="730.8" y1="169.4" x2="730.8" y2="208.2" stroke="#000" stroke-width="1.0" />
<polygon points="730.8,208.2 729.4,203.2 732.2,203.2" fill="#000" stroke="none" stroke-width="1.0"/>
<line x1="730.8" y1="169.4" x2="742.8" y2="169.4" stroke="#000" stroke-width="1.0" />
<line x1="730.8" y1="228.6" x2="730.8" y2="240.1" stroke="#000" stroke-width="1.0" />
<polygon points="730.8,228.6 732.2,233.6 729.4,233.6" fill="#000" stroke="none" stroke-width="1.0"/>
<line x1="748" y1="196.6" x2="748" y2="211.3" stroke="#000" stroke-width="1.0" />
<polygon points="748,211.3 746.6,206.3 749.4,206.3" fill="#000" stroke="none" stroke-width="1.0"/>
<line x1="748" y1="196.6" x2="760.5" y2="196.6" stroke="#000" stroke-width="1.0" />
<line x1="748" y1="226.2" x2="748" y2="237.7" stroke="#000" stroke-width="1.0" />
<polygon points="748,226.2 749.4,231.2 746.6,231.2" fill="#000" stroke="none" stroke-width="1.0"/>
<line x1="681.2" y1="183.1" x2="708" y2="208.6" stroke="#000" stroke-width="1.0" />
<line x1="676.3" y1="195.3" x2="683.1" y2="186.5" stroke="#000" stroke-width="1.0" />
<polygon points="683.1,186.5 681.76,190.52 679.55,188.81" fill="#000" stroke="none" stroke-width="1.0"/>
<path d="M 709 173.7 Q 715 173.7 721.8 175.7" fill="none" stroke="#000" stroke-width="0.9" />
<polygon points="709.3,173.7 713.8,172.4 713.8,175" fill="#000" stroke="none" stroke-width="1.0"/>
<line x1="709" y1="170.8" x2="709" y2="228.6" stroke="#000" stroke-width="1.0" />
<text x="688" y="179.16" font-size="5.6" font-weight="bold" text-anchor="start" textLength="16.7" lengthAdjust="spacingAndGlyphs" fill="#000" stroke="#000" stroke-width="0.3" >45°30'</text>
<text x="688" y="185.06" font-size="5.6" font-weight="bold" text-anchor="start" textLength="16.7" lengthAdjust="spacingAndGlyphs" fill="#000" stroke="#000" stroke-width="0.3" >44°30'</text>
<text x="747.8" y="171.5" font-size="6" font-weight="bold" text-anchor="start" textLength="4.2" lengthAdjust="spacingAndGlyphs" fill="#000" stroke="#000" stroke-width="0.3" >Ø</text>
<text x="753.3" y="169.26" font-size="5.6" font-weight="bold" text-anchor="start" textLength="11" lengthAdjust="spacingAndGlyphs" fill="#000" stroke="#000" stroke-width="0.3" >.414</text>
<text x="753.3" y="175.26" font-size="5.6" font-weight="bold" text-anchor="start" textLength="11" lengthAdjust="spacingAndGlyphs" fill="#000" stroke="#000" stroke-width="0.3" >.412</text>
<text x="741.9" y="182.77" font-size="6.2" font-weight="bold" text-anchor="start" textLength="1.8" lengthAdjust="spacingAndGlyphs" fill="#000" stroke="#000" stroke-width="0.3" >(</text>
<text x="744.9" y="182.7" font-size="6" font-weight="bold" text-anchor="start" textLength="4.2" lengthAdjust="spacingAndGlyphs" fill="#000" stroke="#000" stroke-width="0.3" >Ø</text>
<text x="750.2" y="180.56" font-size="5.6" font-weight="bold" text-anchor="start" textLength="14" lengthAdjust="spacingAndGlyphs" fill="#000" stroke="#000" stroke-width="0.3" >10.52</text>
<text x="750.2" y="186.96" font-size="5.6" font-weight="bold" text-anchor="start" textLength="14" lengthAdjust="spacingAndGlyphs" fill="#000" stroke="#000" stroke-width="0.3" >10.46</text>
<text x="766.5" y="182.77" font-size="6.2" font-weight="bold" text-anchor="start" textLength="1.8" lengthAdjust="spacingAndGlyphs" fill="#000" stroke="#000" stroke-width="0.3" >)</text>
<text x="763.5" y="198.4" font-size="6" font-weight="bold" text-anchor="start" textLength="4.2" lengthAdjust="spacingAndGlyphs" fill="#000" stroke="#000" stroke-width="0.3" >Ø</text>
<text x="770.1" y="195.66" font-size="5.6" font-weight="bold" text-anchor="start" textLength="9.5" lengthAdjust="spacingAndGlyphs" fill="#000" stroke="#000" stroke-width="0.3" >.307</text>
<text x="770.1" y="201.16" font-size="5.6" font-weight="bold" text-anchor="start" textLength="9.5" lengthAdjust="spacingAndGlyphs" fill="#000" stroke="#000" stroke-width="0.3" >.305</text>
<text x="759.9" y="211.57" font-size="6.2" font-weight="bold" text-anchor="start" textLength="1.8" lengthAdjust="spacingAndGlyphs" fill="#000" stroke="#000" stroke-width="0.3" >(</text>
<text x="762.4" y="211.5" font-size="6" font-weight="bold" text-anchor="start" textLength="4.2" lengthAdjust="spacingAndGlyphs" fill="#000" stroke="#000" stroke-width="0.3" >Ø</text>
<text x="768.2" y="207.96" font-size="5.6" font-weight="bold" text-anchor="start" textLength="10.5" lengthAdjust="spacingAndGlyphs" fill="#000" stroke="#000" stroke-width="0.3" >7.80</text>
<text x="768.2" y="213.96" font-size="5.6" font-weight="bold" text-anchor="start" textLength="10.5" lengthAdjust="spacingAndGlyphs" fill="#000" stroke="#000" stroke-width="0.3" >7.75</text>
<text x="781.3" y="211.57" font-size="6.2" font-weight="bold" text-anchor="start" textLength="1.8" lengthAdjust="spacingAndGlyphs" fill="#000" stroke="#000" stroke-width="0.3" >)</text>
<line x1="168.1" y1="233" x2="168.1" y2="279.2" stroke="#000" stroke-width="1.0" />
<line x1="189.4" y1="254.5" x2="189.4" y2="308.3" stroke="#000" stroke-width="1.0" />
<line x1="369.4" y1="254.5" x2="369.4" y2="279.2" stroke="#000" stroke-width="1.0" />
<line x1="429.1" y1="228.4" x2="429.1" y2="279.2" stroke="#000" stroke-width="1.0" />
<line x1="527.4" y1="229" x2="527.4" y2="278.6" stroke="#000" stroke-width="1.0" />
<line x1="575.4" y1="236.2" x2="575.4" y2="293.7" stroke="#000" stroke-width="1.0" />
<line x1="669" y1="230" x2="669" y2="280" stroke="#000" stroke-width="1.0" />
<line x1="698.5" y1="228.6" x2="698.5" y2="249.3" stroke="#000" stroke-width="1.0" />
<line x1="709" y1="228.6" x2="709" y2="265.6" stroke="#000" stroke-width="1.0" />
<line x1="719.5" y1="226.2" x2="719.5" y2="309.5" stroke="#000" stroke-width="1.0" />
<line x1="156.1" y1="277.2" x2="168.1" y2="277.2" stroke="#000" stroke-width="1.0" />
<polygon points="168.1,277.2 163.1,278.6 163.1,275.8" fill="#000" stroke="none" stroke-width="1.0"/>
<text x="178.2" y="277.16" font-size="5.6" font-weight="bold" text-anchor="middle" textLength="7.5" lengthAdjust="spacingAndGlyphs" fill="#000" stroke="#000" stroke-width="0.3" >.45</text>
<text x="178.4" y="282.76" font-size="5.6" font-weight="bold" text-anchor="middle" textLength="17" lengthAdjust="spacingAndGlyphs" fill="#000" stroke="#000" stroke-width="0.3" >( 11.4 )</text>
<text x="178.4" y="289.16" font-size="5.6" font-weight="bold" text-anchor="middle" textLength="9" lengthAdjust="spacingAndGlyphs" fill="#000" stroke="#000" stroke-width="0.3" >REF</text>
<line x1="189.4" y1="277.2" x2="268.6" y2="277.2" stroke="#000" stroke-width="1.0" />
<polygon points="189.4,277.2 194.4,275.8 194.4,278.6" fill="#000" stroke="none" stroke-width="1.0"/>
<line x1="291.8" y1="277.2" x2="369.4" y2="277.2" stroke="#000" stroke-width="1.0" />
<polygon points="369.4,277.2 364.4,278.6 364.4,275.8" fill="#000" stroke="none" stroke-width="1.0"/>
<text x="278.7" y="276.16" font-size="5.6" font-weight="bold" text-anchor="middle" textLength="10.5" lengthAdjust="spacingAndGlyphs" fill="#000" stroke="#000" stroke-width="0.3" >3.75</text>
<text x="278.7" y="282.16" font-size="5.6" font-weight="bold" text-anchor="middle" textLength="18" lengthAdjust="spacingAndGlyphs" fill="#000" stroke="#000" stroke-width="0.3" >( 95.2 )</text>
<line x1="369.4" y1="277.2" x2="387.5" y2="277.2" stroke="#000" stroke-width="1.0" />
<polygon points="369.4,277.2 374.4,275.8 374.4,278.6" fill="#000" stroke="none" stroke-width="1.0"/>
<line x1="410.6" y1="277.2" x2="429.1" y2="277.2" stroke="#000" stroke-width="1.0" />
<polygon points="429.1,277.2 424.1,278.6 424.1,275.8" fill="#000" stroke="none" stroke-width="1.0"/>
<text x="398.5" y="276.16" font-size="5.6" font-weight="bold" text-anchor="middle" textLength="10" lengthAdjust="spacingAndGlyphs" fill="#000" stroke="#000" stroke-width="0.3" >1.25</text>
<text x="398.5" y="281.76" font-size="5.6" font-weight="bold" text-anchor="middle" textLength="17.5" lengthAdjust="spacingAndGlyphs" fill="#000" stroke="#000" stroke-width="0.3" >( 31.8 )</text>
<line x1="429.1" y1="277.2" x2="464.2" y2="277.2" stroke="#000" stroke-width="1.0" />
<polygon points="429.1,277.2 434.1,275.8 434.1,278.6" fill="#000" stroke="none" stroke-width="1.0"/>
<line x1="496.4" y1="277.2" x2="527.4" y2="277.2" stroke="#000" stroke-width="1.0" />
<polygon points="527.4,277.2 522.4,278.6 522.4,275.8" fill="#000" stroke="none" stroke-width="1.0"/>
<text x="465.8" y="279.16" font-size="5.6" font-weight="bold" text-anchor="start" textLength="25" lengthAdjust="spacingAndGlyphs" fill="#000" stroke="#000" stroke-width="0.3" >18.00 ±12</text>
<text x="465.8" y="284.76" font-size="5.6" font-weight="bold" text-anchor="start" textLength="30.2" lengthAdjust="spacingAndGlyphs" fill="#000" stroke="#000" stroke-width="0.3" >(457.2±3.1)</text>
<line x1="189.4" y1="306.7" x2="428.7" y2="306.7" stroke="#000" stroke-width="1.0" />
<polygon points="189.4,306.7 194.4,305.3 194.4,308.1" fill="#000" stroke="none" stroke-width="1.0"/>
<line x1="480.3" y1="306.7" x2="719.5" y2="306.7" stroke="#000" stroke-width="1.0" />
<polygon points="719.5,306.7 714.5,308.1 714.5,305.3" fill="#000" stroke="none" stroke-width="1.0"/>
<text x="434" y="308.66" font-size="5.6" font-weight="bold" text-anchor="start" textLength="14.1" lengthAdjust="spacingAndGlyphs" fill="#000" stroke="#000" stroke-width="0.3" >30.00</text>
<text x="453.2" y="308.66" font-size="5.6" font-weight="bold" text-anchor="start" textLength="23.1" lengthAdjust="spacingAndGlyphs" fill="#000" stroke="#000" stroke-width="0.3" >NOMINAL</text>
<text x="431" y="315.36" font-size="5.6" font-weight="bold" text-anchor="start" textLength="16" lengthAdjust="spacingAndGlyphs" fill="#000" stroke="#000" stroke-width="0.3" >( 762 )</text>
<line x1="575.4" y1="292.9" x2="635.6" y2="292.9" stroke="#000" stroke-width="1.0" />
<polygon points="575.4,292.9 580.4,291.5 580.4,294.3" fill="#000" stroke="none" stroke-width="1.0"/>
<line x1="662.3" y1="292.9" x2="719.5" y2="292.9" stroke="#000" stroke-width="1.0" />
<polygon points="719.5,292.9 714.5,294.3 714.5,291.5" fill="#000" stroke="none" stroke-width="1.0"/>
<text x="649" y="294.86" font-size="5.6" font-weight="bold" text-anchor="middle" textLength="11" lengthAdjust="spacingAndGlyphs" fill="#000" stroke="#000" stroke-width="0.3" >6.00</text>
<text x="649" y="300.16" font-size="5.6" font-weight="bold" text-anchor="middle" textLength="17" lengthAdjust="spacingAndGlyphs" fill="#000" stroke="#000" stroke-width="0.3" >(152.4)</text>
<line x1="668.8" y1="278.3" x2="686" y2="278.3" stroke="#000" stroke-width="1.0" />
<polygon points="669,278.3 674,276.9 674,279.7" fill="#000" stroke="none" stroke-width="1.0"/>
<line x1="701" y1="278.3" x2="719.5" y2="278.3" stroke="#000" stroke-width="1.0" />
<polygon points="719.5,278.3 714.5,279.7 714.5,276.9" fill="#000" stroke="none" stroke-width="1.0"/>
<text x="693.4" y="280.26" font-size="5.6" font-weight="bold" text-anchor="middle" textLength="10.5" lengthAdjust="spacingAndGlyphs" fill="#000" stroke="#000" stroke-width="0.3" >1.06</text>
<text x="693.4" y="286.26" font-size="5.6" font-weight="bold" text-anchor="middle" textLength="14.5" lengthAdjust="spacingAndGlyphs" fill="#000" stroke="#000" stroke-width="0.3" >(26.9)</text>
<line x1="686.9" y1="247.8" x2="698.5" y2="247.8" stroke="#000" stroke-width="1.0" />
<polygon points="698.5,247.8 693.5,249.2 693.5,246.4" fill="#000" stroke="none" stroke-width="1.0"/>
<line x1="719.5" y1="247.8" x2="746.8" y2="247.8" stroke="#000" stroke-width="1.0" />
<polygon points="719.5,247.8 724.5,246.4 724.5,249.2" fill="#000" stroke="none" stroke-width="1.0"/>
<text x="757.2" y="250.36" font-size="5.6" font-weight="bold" text-anchor="middle" textLength="8" lengthAdjust="spacingAndGlyphs" fill="#000" stroke="#000" stroke-width="0.3" >.44</text>
<text x="757.2" y="255.06" font-size="5.6" font-weight="bold" text-anchor="middle" textLength="17.5" lengthAdjust="spacingAndGlyphs" fill="#000" stroke="#000" stroke-width="0.3" >(11.18)</text>
<line x1="697.9" y1="264.1" x2="709" y2="264.1" stroke="#000" stroke-width="1.0" />
<polygon points="709,264.1 704,265.5 704,262.7" fill="#000" stroke="none" stroke-width="1.0"/>
<line x1="719.5" y1="264.1" x2="734.3" y2="264.1" stroke="#000" stroke-width="1.0" />
<polygon points="719.5,264.1 724.5,262.7 724.5,265.5" fill="#000" stroke="none" stroke-width="1.0"/>
<text x="742.3" y="263.06" font-size="5.6" font-weight="bold" text-anchor="middle" textLength="10.5" lengthAdjust="spacingAndGlyphs" fill="#000" stroke="#000" stroke-width="0.3" >.214</text>
<text x="742.3" y="269.06" font-size="5.6" font-weight="bold" text-anchor="middle" textLength="10" lengthAdjust="spacingAndGlyphs" fill="#000" stroke="#000" stroke-width="0.3" >5.44</text>
<text x="742.3" y="274.96" font-size="5.6" font-weight="bold" text-anchor="middle" textLength="14.5" lengthAdjust="spacingAndGlyphs" fill="#000" stroke="#000" stroke-width="0.3" >(5.44)</text>
<circle cx="71.4" cy="218.4" r="36.2" fill="none" stroke="#000" stroke-width="1.0"/>
<line x1="21.5" y1="218.4" x2="116" y2="218.4" stroke="#000" stroke-width="1" stroke-dasharray="22 2 4 2" stroke-dashoffset="-6"/>
<line x1="71.4" y1="173.3" x2="71.4" y2="263.6" stroke="#000" stroke-width="1" stroke-dasharray="22 2 4 2" stroke-dashoffset="-6"/>
<circle cx="71.4" cy="218.4" r="14" fill="none" stroke="#000" stroke-width="1.0"/>
<circle cx="71.4" cy="218.4" r="12.2" fill="none" stroke="#000" stroke-width="0.8"/>
<rect x="69.4" y="202.8" width="4" height="1.8" rx="0.8" fill="none" stroke="#000" stroke-width="0.7"/>
<circle cx="57.8" cy="226" r="1.4" fill="none" stroke="#000" stroke-width="0.7"/>
<circle cx="85" cy="226" r="1.4" fill="none" stroke="#000" stroke-width="0.7"/>
<circle cx="68.6" cy="211.2" r="1" fill="none" stroke="#000" stroke-width="0.7"/>
<circle cx="76.2" cy="213.6" r="1" fill="none" stroke="#000" stroke-width="0.7"/>
<circle cx="65.1" cy="215.6" r="1" fill="none" stroke="#000" stroke-width="0.7"/>
<circle cx="76.8" cy="221.8" r="1" fill="none" stroke="#000" stroke-width="0.7"/>
<circle cx="66" cy="221.8" r="1" fill="none" stroke="#000" stroke-width="0.7"/>
<circle cx="71.4" cy="224.9" r="1" fill="none" stroke="#000" stroke-width="0.7"/>
<circle cx="71.7" cy="212.1" r="1" fill="none" stroke="#000" stroke-width="0.7"/>
<text x="77" y="212.75" font-size="3" font-weight="bold" text-anchor="middle" fill="#000" stroke="#000" stroke-width="0.3" >E</text>
<text x="79.2" y="222.35" font-size="3" font-weight="bold" text-anchor="middle" fill="#000" stroke="#000" stroke-width="0.3" >F</text>
<text x="66.4" y="226.25" font-size="3" font-weight="bold" text-anchor="middle" fill="#000" stroke="#000" stroke-width="0.3" >B</text>
<text x="74" y="227.75" font-size="3" font-weight="bold" text-anchor="middle" fill="#000" stroke="#000" stroke-width="0.3" >A</text>
<text x="67.9" y="218.45" font-size="3" font-weight="bold" text-anchor="middle" fill="#000" stroke="#000" stroke-width="0.3" >C</text>
<text x="70.6" y="214.65" font-size="3" font-weight="bold" text-anchor="middle" fill="#000" stroke="#000" stroke-width="0.3" >D</text>
<circle cx="92.5" cy="222.9" r="3.4" fill="none" stroke="#000" stroke-width="1.0"/>
<line x1="90.3" y1="225.3" x2="94.8" y2="220.4" stroke="#000" stroke-width="1.1" />
<line x1="89.9" y1="224.2" x2="94" y2="219.7" stroke="#000" stroke-width="0.5" />
<polyline points="50.2,136.9 42,136.9 64.2,205.4" fill="none" stroke="#000" stroke-width="1.0" />
<polygon points="64.6,206.3 61.88,202.45 64.54,201.59" fill="#000" stroke="none" stroke-width="1.0"/>
<text x="51.8" y="138.86" font-size="5.6" font-weight="bold" text-anchor="start" textLength="96.2" lengthAdjust="spacingAndGlyphs" fill="#000" stroke="#000" stroke-width="0.3" >BENDIX CONNECTOR  P1T02A-10-6P</text>
<text x="74.7" y="146.06" font-size="5.6" font-weight="bold" text-anchor="start" textLength="46" lengthAdjust="spacingAndGlyphs" fill="#000" stroke="#000" stroke-width="0.3" >OR  EQUIVALENT</text>
<text x="52.7" y="153.06" font-size="5.6" font-weight="bold" text-anchor="start" textLength="107.1" lengthAdjust="spacingAndGlyphs" fill="#000" stroke="#000" stroke-width="0.3" >MATING  CONNECTOR  PT06A-10-6S  (SR)</text>
<text x="74.7" y="159.26" font-size="5.6" font-weight="bold" text-anchor="start" textLength="46" lengthAdjust="spacingAndGlyphs" fill="#000" stroke="#000" stroke-width="0.3" >OR  EQUIVALENT</text>
<text x="44.9" y="274.33" font-size="5.8" font-weight="bold" text-anchor="start" textLength="54.1" lengthAdjust="spacingAndGlyphs" fill="#000" stroke="#000" stroke-width="0.3" >AUTO-ZERO SWITCH</text>
<text x="30" y="281.23" font-size="5.8" font-weight="bold" text-anchor="start" textLength="84" lengthAdjust="spacingAndGlyphs" fill="#000" stroke="#000" stroke-width="0.3" >PROTECTED BY A SEAL SCREW</text>
<rect x="25.7" y="326.5" width="116" height="83.7" rx="0" fill="none" stroke="#000" stroke-width="1.2"/>
<line x1="25.7" y1="341.2" x2="141.7" y2="341.2" stroke="#000" stroke-width="1.0" />
<line x1="25.7" y1="351.5" x2="141.7" y2="351.5" stroke="#000" stroke-width="1.0" />
<line x1="25.7" y1="353.2" x2="141.7" y2="353.2" stroke="#000" stroke-width="1.0" />
<line x1="25.7" y1="362.5" x2="141.7" y2="362.5" stroke="#000" stroke-width="1.0" />
<line x1="25.7" y1="372.3" x2="141.7" y2="372.3" stroke="#000" stroke-width="1.0" />
<line x1="25.7" y1="381.7" x2="141.7" y2="381.7" stroke="#000" stroke-width="1.0" />
<line x1="25.7" y1="391.5" x2="141.7" y2="391.5" stroke="#000" stroke-width="1.0" />
<line x1="25.7" y1="401.7" x2="141.7" y2="401.7" stroke="#000" stroke-width="1.0" />
<line x1="51.4" y1="341.2" x2="51.4" y2="410.2" stroke="#000" stroke-width="1.0" />
<text x="39.3" y="337.14" font-size="8.4" font-weight="normal" text-anchor="start" textLength="88.2" lengthAdjust="spacingAndGlyphs" fill="#000" stroke="#000" stroke-width="0.3" >CONNECTOR  WIRING</text>
<text x="38.2" y="349.57" font-size="6.2" font-weight="bold" text-anchor="middle" textLength="11.5" lengthAdjust="spacingAndGlyphs" fill="#000" stroke="#000" stroke-width="0.3" >PIN</text>
<text x="77.2" y="348.67" font-size="6.2" font-weight="bold" text-anchor="start" textLength="33.4" lengthAdjust="spacingAndGlyphs" fill="#000" stroke="#000" stroke-width="0.3" >FUNCTION</text>
<text x="37.3" y="360.07" font-size="6.2" font-weight="bold" text-anchor="middle" textLength="4.5" lengthAdjust="spacingAndGlyphs" fill="#000" stroke="#000" stroke-width="0.3" >A</text>
<text x="80" y="360.07" font-size="6.2" font-weight="bold" text-anchor="start" textLength="28" lengthAdjust="spacingAndGlyphs" fill="#000" stroke="#000" stroke-width="0.3" >SIGNAL +</text>
<text x="37.3" y="369.87" font-size="6.2" font-weight="bold" text-anchor="middle" textLength="4.5" lengthAdjust="spacingAndGlyphs" fill="#000" stroke="#000" stroke-width="0.3" >B</text>
<text x="81" y="369.87" font-size="6.2" font-weight="bold" text-anchor="start" textLength="27" lengthAdjust="spacingAndGlyphs" fill="#000" stroke="#000" stroke-width="0.3" >SIGNAL -</text>
<text x="37.3" y="378.97" font-size="6.2" font-weight="bold" text-anchor="middle" textLength="4.5" lengthAdjust="spacingAndGlyphs" fill="#000" stroke="#000" stroke-width="0.3" >C</text>
<text x="67" y="378.97" font-size="6.2" font-weight="bold" text-anchor="start" textLength="56.5" lengthAdjust="spacingAndGlyphs" fill="#000" stroke="#000" stroke-width="0.3" >NO CONNECTION</text>
<text x="37.3" y="388.77" font-size="6.2" font-weight="bold" text-anchor="middle" textLength="4.5" lengthAdjust="spacingAndGlyphs" fill="#000" stroke="#000" stroke-width="0.3" >D</text>
<text x="73.5" y="388.77" font-size="6.2" font-weight="bold" text-anchor="start" textLength="38" lengthAdjust="spacingAndGlyphs" fill="#000" stroke="#000" stroke-width="0.3" >AUTO-ZERO</text>
<text x="37.3" y="398.17" font-size="6.2" font-weight="bold" text-anchor="middle" textLength="4.5" lengthAdjust="spacingAndGlyphs" fill="#000" stroke="#000" stroke-width="0.3" >E</text>
<text x="54" y="398.17" font-size="6.2" font-weight="bold" text-anchor="start" textLength="84.9" lengthAdjust="spacingAndGlyphs" fill="#000" stroke="#000" stroke-width="0.3" >INTERNAL CAL RESISTOR</text>
<text x="37.3" y="407.87" font-size="6.2" font-weight="bold" text-anchor="middle" textLength="4.5" lengthAdjust="spacingAndGlyphs" fill="#000" stroke="#000" stroke-width="0.3" >F</text>
<text x="76.5" y="407.87" font-size="6.2" font-weight="bold" text-anchor="start" textLength="30.5" lengthAdjust="spacingAndGlyphs" fill="#000" stroke="#000" stroke-width="0.3" >GROUND</text>
<line x1="160" y1="397.2" x2="179.5" y2="397.2" stroke="#000" stroke-width="1.0" />
<path d="M 209.6 373.3 L 181.5 373.3 Q 179.5 373.3 179.5 375.3 L 179.5 418.5 Q 179.5 420.5 181.5 420.5 L 209.6 420.5" fill="none" stroke="#000" stroke-width="1.0" />
<line x1="209.6" y1="373.3" x2="209.6" y2="420.5" stroke="#000" stroke-width="1.0" />
<polyline points="209.6,373.3 211.18,373.37 212.75,373.59 214.33,373.92 215.91,374.34 217.49,374.8 219.06,375.26 220.64,375.68 222.22,376.01 223.8,376.23 225.38,376.3 226.95,376.23 228.53,376.01 230.11,375.68 231.69,375.26 233.26,374.8 234.84,374.34 236.42,373.92 238,373.59 239.57,373.37 241.15,373.3 242.73,373.37 244.31,373.59 245.88,373.92 247.46,374.34 249.04,374.8 250.62,375.26 252.19,375.68 253.77,376.01 255.35,376.23 256.93,376.3 258.5,376.23 260.08,376.01 261.66,375.68 263.24,375.26 264.81,374.8 266.39,374.34 267.97,373.92 269.54,373.59 271.12,373.37 272.7,373.3" fill="none" stroke="#000" stroke-width="1.0" />
<polyline points="209.6,420.5 211.18,420.43 212.75,420.21 214.33,419.88 215.91,419.46 217.49,419 219.06,418.54 220.64,418.12 222.22,417.79 223.8,417.57 225.38,417.5 226.95,417.57 228.53,417.79 230.11,418.12 231.69,418.54 233.26,419 234.84,419.46 236.42,419.88 238,420.21 239.57,420.43 241.15,420.5 242.73,420.43 244.31,420.21 245.88,419.88 247.46,419.46 249.04,419 250.62,418.54 252.19,418.12 253.77,417.79 255.35,417.57 256.93,417.5 258.5,417.57 260.08,417.79 261.66,418.12 263.24,418.54 264.81,419 266.39,419.46 267.97,419.88 269.54,420.21 271.12,420.43 272.7,420.5" fill="none" stroke="#000" stroke-width="1.0" />
<line x1="241" y1="373.3" x2="241" y2="420.5" stroke="#000" stroke-width="1.1" />
<path d="M 272.7 373.2 L 300.6 373.2 Q 302.6 373.2 302.6 375.2 L 302.6 418.6 Q 302.6 420.6 300.6 420.6 L 272.7 420.6" fill="none" stroke="#000" stroke-width="1.0" />
<line x1="272.7" y1="373.2" x2="272.7" y2="420.6" stroke="#000" stroke-width="1.0" />
<circle cx="186" cy="384.6" r="4.4" fill="none" stroke="#000" stroke-width="1.0"/>
<line x1="182.69" y1="387.03" x2="188.41" y2="383.73" stroke="#000" stroke-width="0.8" />
<line x1="183.59" y1="385.47" x2="189.31" y2="382.17" stroke="#000" stroke-width="0.8" />
<circle cx="186" cy="408.8" r="4.4" fill="none" stroke="#000" stroke-width="1.0"/>
<line x1="184.28" y1="412.22" x2="185.98" y2="405.85" stroke="#000" stroke-width="0.8" />
<line x1="186.02" y1="411.75" x2="187.72" y2="405.38" stroke="#000" stroke-width="0.8" />
<circle cx="296" cy="384.5" r="4.4" fill="none" stroke="#000" stroke-width="1.0"/>
<line x1="292.69" y1="386.93" x2="298.41" y2="383.63" stroke="#000" stroke-width="0.8" />
<line x1="293.59" y1="385.37" x2="299.31" y2="382.07" stroke="#000" stroke-width="0.8" />
<circle cx="296" cy="408.8" r="4.4" fill="none" stroke="#000" stroke-width="1.0"/>
<line x1="294.28" y1="412.22" x2="295.98" y2="405.85" stroke="#000" stroke-width="0.8" />
<line x1="296.02" y1="411.75" x2="297.72" y2="405.38" stroke="#000" stroke-width="0.8" />
<circle cx="234.8" cy="384.9" r="4.3" fill="none" stroke="#000" stroke-width="1.0"/>
<line x1="234.8" y1="382.1" x2="234.8" y2="387.7" stroke="#000" stroke-width="1.0" />
<circle cx="246.6" cy="384.9" r="4.3" fill="none" stroke="#000" stroke-width="1.0"/>
<line x1="246.6" y1="382.1" x2="246.6" y2="387.7" stroke="#000" stroke-width="1.0" />
<circle cx="224.4" cy="397.2" r="4.3" fill="none" stroke="#000" stroke-width="1.0"/>
<line x1="221.06" y1="399.15" x2="227.12" y2="396.94" stroke="#000" stroke-width="0.8" />
<line x1="221.68" y1="397.46" x2="227.74" y2="395.25" stroke="#000" stroke-width="0.8" />
<circle cx="234.8" cy="397.2" r="4.3" fill="none" stroke="#000" stroke-width="1.0"/>
<polyline points="232,396.8 236.1,396.8 236.1,399.4" fill="none" stroke="#000" stroke-width="1.0" />
<circle cx="246.6" cy="397.2" r="4.3" fill="none" stroke="#000" stroke-width="1.0"/>
<polyline points="249.4,397.6 245.3,397.6 245.3,395" fill="none" stroke="#000" stroke-width="1.0" />
<circle cx="257.2" cy="397.2" r="4.3" fill="none" stroke="#000" stroke-width="1.0"/>
<line x1="253.86" y1="399.15" x2="259.92" y2="396.94" stroke="#000" stroke-width="0.8" />
<line x1="254.48" y1="397.46" x2="260.54" y2="395.25" stroke="#000" stroke-width="0.8" />
<circle cx="234.8" cy="409" r="4.3" fill="none" stroke="#000" stroke-width="1.0"/>
<line x1="232" y1="409" x2="237.6" y2="409" stroke="#000" stroke-width="1.0" />
<line x1="234.8" y1="406.2" x2="234.8" y2="411.8" stroke="#000" stroke-width="1.0" />
<circle cx="246.6" cy="409" r="4.3" fill="none" stroke="#000" stroke-width="1.0"/>
<line x1="243.8" y1="409" x2="249.4" y2="409" stroke="#000" stroke-width="1.0" />
<line x1="246.6" y1="406.2" x2="246.6" y2="411.8" stroke="#000" stroke-width="1.0" />
<line x1="182" y1="397.2" x2="209" y2="397.2" stroke="#000" stroke-width="1" stroke-dasharray="2 3 22 3" stroke-dashoffset="0"/>
<line x1="264.5" y1="397.0" x2="296" y2="397.0" stroke="#000" stroke-width="1" stroke-dasharray="14 3 3 3"/>
<text x="177" y="356.23" font-size="5.8" font-weight="bold" text-anchor="start" textLength="80.4" lengthAdjust="spacingAndGlyphs" fill="#000" stroke="#000" stroke-width="0.3" >MALE T/C CONNECTOR TYPE J</text>
<polyline points="260.8,353.8 272.1,353.8 281,371.6" fill="none" stroke="#000" stroke-width="1.0" />
<polygon points="281.5,372.6 278.24,369.2 280.74,367.95" fill="#000" stroke="none" stroke-width="1.0"/>
<polyline points="196.4,422.3 204.3,437.7 214.8,437.7" fill="none" stroke="#000" stroke-width="1.0" />
<polygon points="196,421.4 199.29,424.77 196.79,426.05" fill="#000" stroke="none" stroke-width="1.0"/>
<text x="217.8" y="439.73" font-size="5.8" font-weight="bold" text-anchor="start" textLength="86.7" lengthAdjust="spacingAndGlyphs" fill="#000" stroke="#000" stroke-width="0.3" >FEMALE T/C CONNECTOR TYPE J</text>
<defs><pattern id="braid" x="302.6" y="392.9" width="4.1" height="8.4" patternUnits="userSpaceOnUse"><rect x="0" y="0" width="4.1" height="2.7" fill="#111"/><rect x="0.8" y="1.0" width="1.8" height="0.7" fill="#aaa"/><rect x="0" y="7.2" width="4.1" height="1.2" fill="#111"/><polygon points="-0.6,2.6 4.7,2.6 2.05,7.4" fill="#222"/><polygon points="3.5,2.6 4.1,2.6 4.1,3.6" fill="#222"/><polygon points="0,2.6 0.6,2.6 0,3.6" fill="#222"/></pattern></defs>
<rect x="302.6" y="392.9" width="143.3" height="8.4" fill="url(#braid)"/>
<line x1="302.6" y1="356.3" x2="302.6" y2="373.2" stroke="#000" stroke-width="1.0" />
<line x1="445.9" y1="356.4" x2="445.9" y2="389.7" stroke="#000" stroke-width="1.0" />
<line x1="302.6" y1="358.3" x2="348.5" y2="358.3" stroke="#000" stroke-width="1.0" />
<polygon points="302.6,358.3 307.6,356.9 307.6,359.7" fill="#000" stroke="none" stroke-width="1.0"/>
<line x1="399.3" y1="358.3" x2="445.9" y2="358.3" stroke="#000" stroke-width="1.0" />
<polygon points="445.9,358.3 440.9,359.7 440.9,356.9" fill="#000" stroke="none" stroke-width="1.0"/>
<text x="359.8" y="357.06" font-size="5.6" font-weight="bold" text-anchor="middle" textLength="10.5" lengthAdjust="spacingAndGlyphs" fill="#000" stroke="#000" stroke-width="0.3" >3.00</text>
<text x="351" y="363.86" font-size="5.6" font-weight="bold" text-anchor="start" textLength="17.9" lengthAdjust="spacingAndGlyphs" fill="#000" stroke="#000" stroke-width="0.3" >( 76.2 )</text>
<text x="371.9" y="360.13" font-size="5.8" font-weight="bold" text-anchor="start" textLength="24.4" lengthAdjust="spacingAndGlyphs" fill="#000" stroke="#000" stroke-width="0.3" >NOMINAL</text>
<text x="338" y="391.03" font-size="5.8" font-weight="bold" text-anchor="start" textLength="70.8" lengthAdjust="spacingAndGlyphs" fill="#000" stroke="#000" stroke-width="0.3" >FLEXIBLE BRAIDED ARMOR</text>
<path d="M 445.9 391.3 L 464 391.3 Q 466 391.3 466 393.3 L 466 401.1 Q 466 403.1 464 403.1 L 445.9 403.1 Z" fill="none" stroke="#000" stroke-width="1.0" />
<rect x="466" y="394.3" width="6.9" height="5.8" rx="0" fill="none" stroke="#000" stroke-width="1.0"/>
<rect x="473.3" y="385.5" width="2.9" height="23.3" rx="0" fill="none" stroke="#000" stroke-width="1.0"/>
<rect x="476.2" y="367.4" width="16" height="59.5" rx="0" fill="none" stroke="#000" stroke-width="1.0"/>
<rect x="492.2" y="368.6" width="7" height="57.1" rx="0" fill="none" stroke="#000" stroke-width="1.0"/>
<line x1="493.9" y1="368.6" x2="493.9" y2="425.7" stroke="#333" stroke-width="0.8" />
<line x1="495.6" y1="368.6" x2="495.6" y2="425.7" stroke="#333" stroke-width="0.8" />
<line x1="497.4" y1="368.6" x2="497.4" y2="425.7" stroke="#333" stroke-width="0.8" />
<rect x="499.2" y="367" width="20.4" height="59.9" rx="0" fill="none" stroke="#000" stroke-width="1.0"/>
<path d="M 519.6 373.0 L 542.7 373.0 Q 544.9 373.0 544.9 375.5 L 544.9 418.5 Q 544.9 421.0 542.7 421.0 L 519.6 421.0" fill="none" stroke="#000" stroke-width="1.0" />
<line x1="519.6" y1="385.8" x2="544.9" y2="385.8" stroke="#000" stroke-width="1.0" />
<line x1="519.6" y1="409.6" x2="544.9" y2="409.6" stroke="#000" stroke-width="1.0" />
<line x1="544.9" y1="385.2" x2="573.9" y2="385.2" stroke="#000" stroke-width="1.0" />
<line x1="544.9" y1="409.2" x2="573.9" y2="409.2" stroke="#000" stroke-width="1.0" />
<path d="M 572.9 385.2 Q 578.4 385.2 578.4 391.25 Q 578.4 397.3 572.9 397.3" fill="none" stroke="#000" stroke-width="1.0" />
<ellipse cx="575.1" cy="403.25" rx="3.4" ry="5.95" fill="none" stroke="#000" stroke-width="1"/>
<line x1="572.9" y1="406.82" x2="577.3" y2="399.68" stroke="#000" stroke-width="0.9" />
<line x1="574.1" y1="408.31" x2="577.9" y2="402.06" stroke="#000" stroke-width="0.6" />
<ellipse cx="589.5" cy="391.25" rx="3.4" ry="6.05" fill="none" stroke="#000" stroke-width="1"/>
<line x1="587.3" y1="394.88" x2="591.7" y2="387.62" stroke="#000" stroke-width="0.9" />
<line x1="588.5" y1="396.39" x2="592.3" y2="390.04" stroke="#000" stroke-width="0.6" />
<path d="M 590.5 397.3 Q 586 397.3 586 403.25 Q 586 409.2 590.5 409.2" fill="none" stroke="#000" stroke-width="1.0" />
<line x1="577.4" y1="397.3" x2="587" y2="397.3" stroke="#000" stroke-width="1.0" />
<line x1="590.5" y1="385.2" x2="618.2" y2="385.2" stroke="#000" stroke-width="1.0" />
<line x1="590.5" y1="409.2" x2="618.2" y2="409.2" stroke="#000" stroke-width="1.0" />
<polygon points="617.8,385.2 620.4,387 620.4,407.7 617.8,409.2" fill="#777" stroke="none" stroke-width="1.0"/>
<line x1="620.4" y1="387" x2="669" y2="387" stroke="#000" stroke-width="1.0" />
<line x1="620.4" y1="407.7" x2="669" y2="407.7" stroke="#000" stroke-width="1.0" />
<line x1="452" y1="397.3" x2="730" y2="397.3" stroke="#000" stroke-width="1.0" stroke-dasharray="22 2 4 2" stroke-dashoffset="-5"/>
<path d="M 479.0 358.2 A 2.8 2.8 0 1 0 484.2 359.6 L 485.6 355.2 L 482.6 355.6 Z" fill="#000" stroke="#000" stroke-width="0.6" />
<line x1="482.3" y1="345" x2="482.3" y2="354" stroke="#000" stroke-width="1.0" />
<line x1="482.3" y1="362" x2="482.3" y2="371.5" stroke="#000" stroke-width="1.0" />
<polyline points="507.4,339 495.5,339 484.6,355.3" fill="none" stroke="#000" stroke-width="1.0" />
<text x="511" y="341.03" font-size="5.8" font-weight="bold" text-anchor="start" textLength="110.6" lengthAdjust="spacingAndGlyphs" fill="#000" stroke="#000" stroke-width="0.3" >4-40 SET SCREW (THERMOCOUPLE LOCK)</text>
<line x1="512.4" y1="355.5" x2="512.4" y2="367" stroke="#000" stroke-width="1.0" />
<polygon points="512.4,367 511,362 513.8,362" fill="#000" stroke="none" stroke-width="1.0"/>
<line x1="512" y1="427" x2="512" y2="448.5" stroke="#000" stroke-width="1.0" />
<polygon points="512,427 513.4,432 510.6,432" fill="#000" stroke="none" stroke-width="1.0"/>
<line x1="499.9" y1="448.5" x2="512" y2="448.5" stroke="#000" stroke-width="1.0" />
<text x="485.8" y="451.06" font-size="5.6" font-weight="bold" text-anchor="middle" textLength="13" lengthAdjust="spacingAndGlyphs" fill="#000" stroke="#000" stroke-width="0.3" >Ø1.25</text>
<text x="485.8" y="456.16" font-size="5.6" font-weight="bold" text-anchor="middle" textLength="22" lengthAdjust="spacingAndGlyphs" fill="#000" stroke="#000" stroke-width="0.3" >( Ø31.8 )</text>
<polyline points="552.1,357.1 541.4,357.1 532.5,372" fill="none" stroke="#000" stroke-width="1.0" />
<polygon points="532.1,373 533.08,368.39 535.52,369.76" fill="#000" stroke="none" stroke-width="1.0"/>
<text x="555.3" y="359.13" font-size="5.8" font-weight="bold" text-anchor="start" textLength="19.5" lengthAdjust="spacingAndGlyphs" fill="#000" stroke="#000" stroke-width="0.3" >.88 HEX</text>
<text x="554.7" y="364.83" font-size="5.8" font-weight="bold" text-anchor="start" textLength="16.7" lengthAdjust="spacingAndGlyphs" fill="#000" stroke="#000" stroke-width="0.3" >( 22.4 )</text>
<line x1="560.4" y1="373.8" x2="560.4" y2="385.2" stroke="#000" stroke-width="1.0" />
<polygon points="560.4,385.2 559,380.2 561.8,380.2" fill="#000" stroke="none" stroke-width="1.0"/>
<line x1="560.3" y1="409.2" x2="560.3" y2="431.5" stroke="#000" stroke-width="1.0" />
<polygon points="560.3,409.2 561.7,414.2 558.9,414.2" fill="#000" stroke="none" stroke-width="1.0"/>
<line x1="560.3" y1="431.5" x2="571.7" y2="431.5" stroke="#000" stroke-width="1.0" />
<text x="578.3" y="432.76" font-size="5.6" font-weight="bold" text-anchor="start" textLength="12" lengthAdjust="spacingAndGlyphs" fill="#000" stroke="#000" stroke-width="0.3" >Ø.50</text>
<text x="575" y="439.06" font-size="5.6" font-weight="bold" text-anchor="start" textLength="22.8" lengthAdjust="spacingAndGlyphs" fill="#000" stroke="#000" stroke-width="0.3" >( Ø12.7 )</text>
<line x1="650.8" y1="375.3" x2="650.8" y2="387" stroke="#000" stroke-width="1.0" />
<polygon points="650.8,387 649.4,382 652.2,382" fill="#000" stroke="none" stroke-width="1.0"/>
<line x1="651" y1="407.7" x2="651" y2="427.2" stroke="#000" stroke-width="1.0" />
<polygon points="651,407.7 652.4,412.7 649.6,412.7" fill="#000" stroke="none" stroke-width="1.0"/>
<line x1="639.4" y1="427.2" x2="651" y2="427.2" stroke="#000" stroke-width="1.0" />
<text x="621.7" y="429.86" font-size="5.6" font-weight="bold" text-anchor="middle" textLength="13" lengthAdjust="spacingAndGlyphs" fill="#000" stroke="#000" stroke-width="0.3" >Ø .42</text>
<text x="612.8" y="436.06" font-size="5.6" font-weight="bold" text-anchor="start" textLength="23.6" lengthAdjust="spacingAndGlyphs" fill="#000" stroke="#000" stroke-width="0.3" >( Ø10.7 )</text>
<text x="612.2" y="367.23" font-size="5.8" font-weight="bold" text-anchor="start" textLength="36.1" lengthAdjust="spacingAndGlyphs" fill="#000" stroke="#000" stroke-width="0.3" >1/2-20 UNF-2A</text>
<polyline points="651.8,364.5 661.6,364.5 674.7,384" fill="none" stroke="#000" stroke-width="1.0" />
<polygon points="675.3,385.1 671.64,382.13 673.97,380.58" fill="#000" stroke="none" stroke-width="1.0"/>
<rect x="669" y="385.6" width="29.8" height="23" rx="1.2" fill="#858585" stroke="#000" stroke-width="1.0"/>
<line x1="670.5" y1="386.1" x2="670.5" y2="408.1" stroke="#000" stroke-width="1.0" />
<line x1="673.2" y1="386.1" x2="673.2" y2="408.1" stroke="#444" stroke-width="0.7" />
<line x1="676.1" y1="386.1" x2="676.1" y2="408.1" stroke="#000" stroke-width="1.0" />
<line x1="678.6" y1="386.1" x2="678.6" y2="408.1" stroke="#444" stroke-width="0.7" />
<line x1="681.2" y1="386.1" x2="681.2" y2="408.1" stroke="#000" stroke-width="1.0" />
<line x1="683.8" y1="386.1" x2="683.8" y2="408.1" stroke="#444" stroke-width="0.7" />
<line x1="686.6" y1="386.1" x2="686.6" y2="408.1" stroke="#000" stroke-width="1.0" />
<line x1="689.2" y1="386.1" x2="689.2" y2="408.1" stroke="#444" stroke-width="0.7" />
<line x1="692" y1="386.1" x2="692" y2="408.1" stroke="#000" stroke-width="1.0" />
<line x1="694.8" y1="386.1" x2="694.8" y2="408.1" stroke="#444" stroke-width="0.7" />
<line x1="697" y1="386.1" x2="697" y2="408.1" stroke="#000" stroke-width="1.0" />
<line x1="669.5" y1="385.6" x2="698.3" y2="385.6" stroke="#000" stroke-width="1.4" />
<line x1="669.5" y1="408.6" x2="698.3" y2="408.6" stroke="#000" stroke-width="1.4" />
<line x1="670" y1="397.3" x2="697.8" y2="397.3" stroke="#000" stroke-width="0.9" stroke-dasharray="6 2 2 2"/>
<line x1="698.8" y1="387.1" x2="709" y2="387.1" stroke="#000" stroke-width="1.0" />
<line x1="698.8" y1="406.7" x2="709" y2="406.7" stroke="#000" stroke-width="1.0" />
<line x1="707" y1="387.1" x2="707" y2="406.7" stroke="#555" stroke-width="0.8" />
<rect x="709" y="390" width="11.3" height="14.3" rx="0" fill="none" stroke="#000" stroke-width="1.0"/>
<line x1="709" y1="387.1" x2="733.2" y2="387.1" stroke="#000" stroke-width="1.0" />
<line x1="709" y1="406.7" x2="733.2" y2="406.7" stroke="#000" stroke-width="1.0" />
<line x1="722.1" y1="390" x2="751.8" y2="390" stroke="#333" stroke-width="1.0" />
<line x1="722.1" y1="404.3" x2="751.8" y2="404.3" stroke="#333" stroke-width="1.0" />
<line x1="713" y1="397.3" x2="725.5" y2="397.3" stroke="#000" stroke-width="0.9" />
<line x1="730.8" y1="347.4" x2="730.8" y2="387.1" stroke="#000" stroke-width="1.0" />
<polygon points="730.8,387.1 729.4,382.1 732.2,382.1" fill="#000" stroke="none" stroke-width="1.0"/>
<line x1="730.8" y1="347.4" x2="742.8" y2="347.4" stroke="#000" stroke-width="1.0" />
<line x1="730.8" y1="406.7" x2="730.8" y2="418.2" stroke="#000" stroke-width="1.0" />
<polygon points="730.8,406.7 732.2,411.7 729.4,411.7" fill="#000" stroke="none" stroke-width="1.0"/>
<line x1="748" y1="376.3" x2="748" y2="390" stroke="#000" stroke-width="1.0" />
<polygon points="748,390 746.6,385 749.4,385" fill="#000" stroke="none" stroke-width="1.0"/>
<line x1="748" y1="376.3" x2="760.5" y2="376.3" stroke="#000" stroke-width="1.0" />
<line x1="748" y1="404.3" x2="748" y2="415.8" stroke="#000" stroke-width="1.0" />
<polygon points="748,404.3 749.4,409.3 746.6,409.3" fill="#000" stroke="none" stroke-width="1.0"/>
<line x1="681.2" y1="360.6" x2="708" y2="386.8" stroke="#000" stroke-width="1.0" />
<line x1="676.3" y1="373.3" x2="683.1" y2="363.5" stroke="#000" stroke-width="1.0" />
<polygon points="683.1,363.5 681.97,367.58 679.67,365.99" fill="#000" stroke="none" stroke-width="1.0"/>
<path d="M 709 352.1 Q 715 352.1 721.8 354.7" fill="none" stroke="#000" stroke-width="0.9" />
<polygon points="709.3,352.1 713.8,350.8 713.8,353.4" fill="#000" stroke="none" stroke-width="1.0"/>
<line x1="709" y1="348.8" x2="709" y2="406.7" stroke="#000" stroke-width="1.0" />
<text x="688" y="356.66" font-size="5.6" font-weight="bold" text-anchor="start" textLength="16.7" lengthAdjust="spacingAndGlyphs" fill="#000" stroke="#000" stroke-width="0.3" >45°30'</text>
<text x="688" y="362.56" font-size="5.6" font-weight="bold" text-anchor="start" textLength="16.7" lengthAdjust="spacingAndGlyphs" fill="#000" stroke="#000" stroke-width="0.3" >44°30'</text>
<text x="747.4" y="349.5" font-size="6" font-weight="bold" text-anchor="start" textLength="4.2" lengthAdjust="spacingAndGlyphs" fill="#000" stroke="#000" stroke-width="0.3" >Ø</text>
<text x="752.9" y="346.26" font-size="5.6" font-weight="bold" text-anchor="start" textLength="11" lengthAdjust="spacingAndGlyphs" fill="#000" stroke="#000" stroke-width="0.3" >.414</text>
<text x="752.9" y="351.76" font-size="5.6" font-weight="bold" text-anchor="start" textLength="11" lengthAdjust="spacingAndGlyphs" fill="#000" stroke="#000" stroke-width="0.3" >.412</text>
<text x="741.9" y="360.17" font-size="6.2" font-weight="bold" text-anchor="start" textLength="1.8" lengthAdjust="spacingAndGlyphs" fill="#000" stroke="#000" stroke-width="0.3" >(</text>
<text x="744.9" y="360.1" font-size="6" font-weight="bold" text-anchor="start" textLength="4.2" lengthAdjust="spacingAndGlyphs" fill="#000" stroke="#000" stroke-width="0.3" >Ø</text>
<text x="750.2" y="358.66" font-size="5.6" font-weight="bold" text-anchor="start" textLength="14" lengthAdjust="spacingAndGlyphs" fill="#000" stroke="#000" stroke-width="0.3" >10.52</text>
<text x="750.2" y="363.96" font-size="5.6" font-weight="bold" text-anchor="start" textLength="14" lengthAdjust="spacingAndGlyphs" fill="#000" stroke="#000" stroke-width="0.3" >10.46</text>
<text x="766.5" y="360.17" font-size="6.2" font-weight="bold" text-anchor="start" textLength="1.8" lengthAdjust="spacingAndGlyphs" fill="#000" stroke="#000" stroke-width="0.3" >)</text>
<text x="764.4" y="378" font-size="6" font-weight="bold" text-anchor="start" textLength="4.2" lengthAdjust="spacingAndGlyphs" fill="#000" stroke="#000" stroke-width="0.3" >Ø</text>
<text x="771" y="375.66" font-size="5.6" font-weight="bold" text-anchor="start" textLength="9.5" lengthAdjust="spacingAndGlyphs" fill="#000" stroke="#000" stroke-width="0.3" >.307</text>
<text x="771" y="381.16" font-size="5.6" font-weight="bold" text-anchor="start" textLength="9.5" lengthAdjust="spacingAndGlyphs" fill="#000" stroke="#000" stroke-width="0.3" >.305</text>
<text x="761.1" y="391.17" font-size="6.2" font-weight="bold" text-anchor="start" textLength="1.8" lengthAdjust="spacingAndGlyphs" fill="#000" stroke="#000" stroke-width="0.3" >(</text>
<text x="763.6" y="391.1" font-size="6" font-weight="bold" text-anchor="start" textLength="4.2" lengthAdjust="spacingAndGlyphs" fill="#000" stroke="#000" stroke-width="0.3" >Ø</text>
<text x="769.4" y="387.96" font-size="5.6" font-weight="bold" text-anchor="start" textLength="10.5" lengthAdjust="spacingAndGlyphs" fill="#000" stroke="#000" stroke-width="0.3" >7.80</text>
<text x="769.4" y="393.26" font-size="5.6" font-weight="bold" text-anchor="start" textLength="10.5" lengthAdjust="spacingAndGlyphs" fill="#000" stroke="#000" stroke-width="0.3" >7.75</text>
<text x="782.5" y="391.17" font-size="6.2" font-weight="bold" text-anchor="start" textLength="1.8" lengthAdjust="spacingAndGlyphs" fill="#000" stroke="#000" stroke-width="0.3" >)</text>
<rect x="452.2" y="409.5" width="24" height="16" rx="0" fill="none" stroke="#000" stroke-width="1.0"/>
<rect x="437.3" y="410.8" width="14.9" height="13.8" rx="0.8" fill="none" stroke="#000" stroke-width="1.0"/>
<line x1="439.6" y1="410.8" x2="439.6" y2="424.6" stroke="#000" stroke-width="1.0" />
<line x1="443.5" y1="410.8" x2="443.5" y2="424.6" stroke="#000" stroke-width="1.0" />
<line x1="447.5" y1="410.8" x2="447.5" y2="424.6" stroke="#000" stroke-width="1.0" />
<line x1="451" y1="410.8" x2="451" y2="424.6" stroke="#000" stroke-width="1.0" />
<line x1="462" y1="417.4" x2="484" y2="417.4" stroke="#000" stroke-width="1" stroke-dasharray="10 3 3 3"/>
<line x1="452.5" y1="427.2" x2="452.5" y2="582.8" stroke="#000" stroke-width="1.0" />
<line x1="544.9" y1="421" x2="544.9" y2="480.3" stroke="#000" stroke-width="1.0" />
<line x1="452.5" y1="478.3" x2="491.3" y2="478.3" stroke="#000" stroke-width="1.0" />
<polygon points="452.5,478.3 457.5,476.9 457.5,479.7" fill="#000" stroke="none" stroke-width="1.0"/>
<line x1="508.3" y1="478.3" x2="544.9" y2="478.3" stroke="#000" stroke-width="1.0" />
<polygon points="544.9,478.3 539.9,479.7 539.9,476.9" fill="#000" stroke="none" stroke-width="1.0"/>
<text x="499.9" y="479.86" font-size="5.6" font-weight="bold" text-anchor="middle" textLength="10" lengthAdjust="spacingAndGlyphs" fill="#000" stroke="#000" stroke-width="0.3" >1.90</text>
<text x="499.9" y="486.26" font-size="5.6" font-weight="bold" text-anchor="middle" textLength="17.5" lengthAdjust="spacingAndGlyphs" fill="#000" stroke="#000" stroke-width="0.3" >( 48.2 )</text>
<line x1="544.9" y1="478.1" x2="622.2" y2="478.1" stroke="#000" stroke-width="1.0" />
<polygon points="544.9,478.1 549.9,476.7 549.9,479.5" fill="#000" stroke="none" stroke-width="1.0"/>
<line x1="639.4" y1="478.1" x2="720.2" y2="478.1" stroke="#000" stroke-width="1.0" />
<polygon points="720.2,478.1 715.2,479.5 715.2,476.7" fill="#000" stroke="none" stroke-width="1.0"/>
<text x="633.2" y="480.06" font-size="5.6" font-weight="bold" text-anchor="middle" textLength="11" lengthAdjust="spacingAndGlyphs" fill="#000" stroke="#000" stroke-width="0.3" >6.00</text>
<text x="633.2" y="486.46" font-size="5.6" font-weight="bold" text-anchor="middle" textLength="19" lengthAdjust="spacingAndGlyphs" fill="#000" stroke="#000" stroke-width="0.3" >( 152.4 )</text>
<line x1="669" y1="408.6" x2="669" y2="464.1" stroke="#000" stroke-width="1.0" />
<line x1="699.2" y1="406.6" x2="699.2" y2="429.6" stroke="#000" stroke-width="1.0" />
<line x1="709.6" y1="406.6" x2="709.6" y2="448.8" stroke="#000" stroke-width="1.0" />
<line x1="720.2" y1="404.3" x2="720.2" y2="478.9" stroke="#000" stroke-width="1.0" />
<line x1="669" y1="463.4" x2="686" y2="463.4" stroke="#000" stroke-width="1.0" />
<polygon points="669,463.4 674,462 674,464.8" fill="#000" stroke="none" stroke-width="1.0"/>
<line x1="702" y1="463.4" x2="720.2" y2="463.4" stroke="#000" stroke-width="1.0" />
<polygon points="720.2,463.4 715.2,464.8 715.2,462" fill="#000" stroke="none" stroke-width="1.0"/>
<text x="694.1" y="465.36" font-size="5.6" font-weight="bold" text-anchor="middle" textLength="10.5" lengthAdjust="spacingAndGlyphs" fill="#000" stroke="#000" stroke-width="0.3" >1.06</text>
<text x="694.1" y="471.46" font-size="5.6" font-weight="bold" text-anchor="middle" textLength="17" lengthAdjust="spacingAndGlyphs" fill="#000" stroke="#000" stroke-width="0.3" >( 26.9 )</text>
<line x1="687.4" y1="428.6" x2="699.2" y2="428.6" stroke="#000" stroke-width="1.0" />
<polygon points="699.2,428.6 694.2,430 694.2,427.2" fill="#000" stroke="none" stroke-width="1.0"/>
<line x1="720.2" y1="428.6" x2="731.7" y2="428.6" stroke="#000" stroke-width="1.0" />
<polygon points="720.2,428.6 725.2,427.2 725.2,430" fill="#000" stroke="none" stroke-width="1.0"/>
<text x="742.8" y="430.86" font-size="5.6" font-weight="bold" text-anchor="middle" textLength="8" lengthAdjust="spacingAndGlyphs" fill="#000" stroke="#000" stroke-width="0.3" >.44</text>
<text x="734.2" y="436.46" font-size="5.6" font-weight="bold" text-anchor="start" textLength="19.7" lengthAdjust="spacingAndGlyphs" fill="#000" stroke="#000" stroke-width="0.3" >(11.18)</text>
<line x1="698.5" y1="447.6" x2="709.6" y2="447.6" stroke="#000" stroke-width="1.0" />
<polygon points="709.6,447.6 704.6,449 704.6,446.2" fill="#000" stroke="none" stroke-width="1.0"/>
<line x1="720.2" y1="447.6" x2="737.9" y2="447.6" stroke="#000" stroke-width="1.0" />
<polygon points="720.2,447.6 725.2,446.2 725.2,449" fill="#000" stroke="none" stroke-width="1.0"/>
<text x="749" y="449.56" font-size="5.6" font-weight="bold" text-anchor="middle" textLength="10.5" lengthAdjust="spacingAndGlyphs" fill="#000" stroke="#000" stroke-width="0.3" >.214</text>
<text x="749" y="454.96" font-size="5.6" font-weight="bold" text-anchor="middle" textLength="17" lengthAdjust="spacingAndGlyphs" fill="#000" stroke="#000" stroke-width="0.3" >( 5.44 )</text>
<polyline points="328.4,500.5 329.14,500.49 329.88,500.44 330.61,500.37 331.34,500.27 332.07,500.14 332.79,499.98 333.5,499.79 334.21,499.58 334.91,499.34 335.59,499.07 336.27,498.77 336.94,498.45 337.59,498.1 338.22,497.73 338.84,497.33 339.45,496.91 340.04,496.46 340.61,496 341.16,495.51 341.69,494.99 349.13,487.55 356.57,480.12 364.01,472.68 371.45,465.24 378.89,457.8 386.33,450.36 393.77,442.92 401.2,435.48 408.64,428.04 416.08,420.61 416.95,419.77 417.86,418.96 418.79,418.2 419.76,417.47 420.75,416.78 421.77,416.12 422.81,415.51 423.88,414.94 424.97,414.41 426.07,413.93 427.2,413.49 428.34,413.09 429.5,412.74 430.67,412.44 431.85,412.18 433.04,411.96 434.24,411.8 435.44,411.68 436.65,411.61 437.86,411.58 438.36,411.58" fill="none" stroke="#000" stroke-width="1.1" stroke-dasharray="30 2 3 2" stroke-dashoffset="-8"/>
<polyline points="328.4,506.5 329.37,506.48 330.35,506.42 331.31,506.33 332.28,506.19 333.24,506.02 334.19,505.81 335.13,505.57 336.06,505.29 336.98,504.97 337.89,504.61 338.78,504.22 339.66,503.8 340.52,503.34 341.36,502.85 342.18,502.32 342.98,501.76 343.75,501.18 344.51,500.56 345.23,499.91 345.94,499.24 353.38,491.8 360.81,484.36 368.25,476.92 375.69,469.48 383.13,462.04 390.57,454.6 398.01,447.16 405.45,439.73 412.89,432.29 420.32,424.85 421.03,424.17 421.75,423.53 422.51,422.91 423.28,422.32 424.08,421.76 424.9,421.24 425.74,420.75 426.6,420.29 427.48,419.86 428.37,419.47 429.28,419.12 430.2,418.8 431.13,418.52 432.07,418.27 433.02,418.06 433.98,417.89 434.95,417.76 435.91,417.66 436.89,417.6 437.86,417.58 438.36,417.58" fill="none" stroke="#000" stroke-width="1.1" stroke-dasharray="30 2 3 2" stroke-dashoffset="-2"/>
<polyline points="328.4,512.5 329.61,512.48 330.82,512.41 332.02,512.29 333.22,512.12 334.41,511.91 335.59,511.65 336.76,511.34 337.92,510.99 339.06,510.6 340.19,510.16 341.29,509.67 342.38,509.14 343.45,508.57 344.49,507.96 345.51,507.31 346.5,506.62 347.47,505.89 348.4,505.12 349.31,504.32 350.18,503.48 357.62,496.04 365.06,488.6 372.5,481.16 379.93,473.72 387.37,466.28 394.81,458.85 402.25,451.41 409.69,443.97 417.13,436.53 424.57,429.09 425.1,428.58 425.65,428.09 426.22,427.62 426.81,427.18 427.42,426.75 428.04,426.35 428.67,425.98 429.33,425.63 429.99,425.31 430.67,425.02 431.35,424.75 432.05,424.5 432.76,424.29 433.47,424.1 434.19,423.95 434.92,423.82 435.65,423.71 436.39,423.64 437.12,423.6 437.86,423.58 438.36,423.58" fill="none" stroke="#000" stroke-width="1.1" stroke-dasharray="30 2 3 2" stroke-dashoffset="-12"/>
<polyline points="360.8,494.9 366.1,508.8 371.5,508.8" fill="none" stroke="#000" stroke-width="1.0" />
<polygon points="360.6,494.4 363.51,498.11 360.9,499.1" fill="#000" stroke="none" stroke-width="1.0"/>
<text x="373.6" y="510.96" font-size="5.6" font-weight="bold" text-anchor="start" textLength="7.5" lengthAdjust="spacingAndGlyphs" fill="#000" stroke="#000" stroke-width="0.3" >.28</text>
<text x="372.5" y="517.02" font-size="5.2" font-weight="bold" text-anchor="start" textLength="10.5" lengthAdjust="spacingAndGlyphs" fill="#000" stroke="#000" stroke-width="0.3" >(7.1)</text>
<text x="384.9" y="514.03" font-size="5.8" font-weight="bold" text-anchor="start" textLength="55.9" lengthAdjust="spacingAndGlyphs" fill="#000" stroke="#000" stroke-width="0.3" >OD FLEXIBLE ARMOR</text>
<text x="377.9" y="525.33" font-size="5.8" font-weight="bold" text-anchor="start" textLength="60.8" lengthAdjust="spacingAndGlyphs" fill="#000" stroke="#000" stroke-width="0.3" >(COVERED CAPILLARY)</text>
<rect x="70.9" y="471.3" width="179.8" height="71.2" rx="0" fill="none" stroke="#000" stroke-width="1.0"/>
<line x1="24.4" y1="471.3" x2="70.9" y2="471.3" stroke="#000" stroke-width="1.0" />
<line x1="24.4" y1="542.5" x2="70.9" y2="542.5" stroke="#000" stroke-width="1.0" />
<line x1="26.6" y1="471.3" x2="26.6" y2="502.5" stroke="#000" stroke-width="1.0" />
<polygon points="26.6,471.3 28,476.3 25.2,476.3" fill="#000" stroke="none" stroke-width="1.0"/>
<line x1="26.6" y1="517.5" x2="26.6" y2="542.5" stroke="#000" stroke-width="1.0" />
<polygon points="26.6,542.5 25.2,537.5 28,537.5" fill="#000" stroke="none" stroke-width="1.0"/>
<text x="18.8" y="509.23" font-size="5.8" font-weight="bold" text-anchor="start" textLength="16.3" lengthAdjust="spacingAndGlyphs" fill="#000" stroke="#000" stroke-width="0.3" >Ø1.50</text>
<text x="16.9" y="515.43" font-size="5.8" font-weight="bold" text-anchor="start" textLength="22.2" lengthAdjust="spacingAndGlyphs" fill="#000" stroke="#000" stroke-width="0.3" >( Ø38.1 )</text>
<rect x="49.2" y="493" width="21.7" height="28.3" rx="0" fill="none" stroke="#000" stroke-width="1.0"/>
<rect x="52.1" y="491.5" width="4.4" height="1.5" rx="0.8" fill="none" stroke="#000" stroke-width="0.8"/>
<circle cx="54" cy="514.7" r="1.8" fill="none" stroke="#000" stroke-width="0.9"/>
<line x1="71.3" y1="506.5" x2="71.3" y2="513" stroke="#000" stroke-width="1.6" />
<line x1="41.4" y1="506.5" x2="318" y2="506.5" stroke="#000" stroke-width="1.0" stroke-dasharray="22 2 4 2" stroke-dashoffset="-4"/>
<polyline points="48.3,458.2 37.6,458.2 68.5,505.7" fill="none" stroke="#000" stroke-width="1.0" />
<polygon points="69,506.5 65.37,503.49 67.72,501.96" fill="#000" stroke="none" stroke-width="1.0"/>
<text x="52.1" y="460.23" font-size="5.8" font-weight="bold" text-anchor="start" textLength="54" lengthAdjust="spacingAndGlyphs" fill="#000" stroke="#000" stroke-width="0.3" >AUTO-ZERO ACCESS</text>
<path d="M 250.7 490.6 L 252.2 490.4 L 253.9 492.3 L 255.31 490.9 L 256.43 493.2 L 257.66 492.6 L 260.1 492.6 L 260.1 521.2 L 257.66 521.2 L 256.43 520.6 L 255.31 522.9 L 253.9 521.5 L 252.2 523.4 L 250.7 523.2 Z" fill="none" stroke="#000" stroke-width="1.0" stroke-linejoin="round"/>
<line x1="252.77" y1="491.03" x2="252.77" y2="522.77" stroke="#555" stroke-width="0.8" />
<line x1="255.21" y1="490.99" x2="255.21" y2="522.81" stroke="#000" stroke-width="1.5" />
<line x1="257.28" y1="492.78" x2="257.28" y2="521.02" stroke="#000" stroke-width="0.8" />
<line x1="259.16" y1="492.6" x2="259.16" y2="521.2" stroke="#000" stroke-width="0.8" />
<rect x="260.1" y="490.4" width="45" height="33" rx="0" fill="none" stroke="#000" stroke-width="1.0"/>
<rect x="305.1" y="498.3" width="5.3" height="17" rx="1.5" fill="none" stroke="#000" stroke-width="1.0"/>
<rect x="310.4" y="500.2" width="18" height="13.2" rx="0.8" fill="none" stroke="#000" stroke-width="1.0"/>
<line x1="312.9" y1="500.2" x2="312.9" y2="513.4" stroke="#000" stroke-width="1.0" />
<line x1="315.4" y1="500.2" x2="315.4" y2="513.4" stroke="#000" stroke-width="1.0" />
<line x1="318.5" y1="500.2" x2="318.5" y2="513.4" stroke="#000" stroke-width="1.0" />
<line x1="322.9" y1="500.2" x2="322.9" y2="513.4" stroke="#000" stroke-width="1.0" />
<line x1="327.3" y1="500.2" x2="327.3" y2="513.4" stroke="#000" stroke-width="1.0" />
<line x1="280" y1="468.5" x2="280" y2="490.4" stroke="#000" stroke-width="1.0" />
<polygon points="280,490.4 278.6,485.4 281.4,485.4" fill="#000" stroke="none" stroke-width="1.0"/>
<line x1="280" y1="468.5" x2="291.5" y2="468.5" stroke="#000" stroke-width="1.0" />
<line x1="280" y1="523.4" x2="280" y2="534.2" stroke="#000" stroke-width="1.0" />
<polygon points="280,523.4 281.4,528.4 278.6,528.4" fill="#000" stroke="none" stroke-width="1.0"/>
<text x="297.2" y="470.83" font-size="5.8" font-weight="bold" text-anchor="start" textLength="14" lengthAdjust="spacingAndGlyphs" fill="#000" stroke="#000" stroke-width="0.3" >Ø .68</text>
<text x="294" y="477.73" font-size="5.8" font-weight="bold" text-anchor="start" textLength="22.9" lengthAdjust="spacingAndGlyphs" fill="#000" stroke="#000" stroke-width="0.3" >( Ø17.3 )</text>
<line x1="49.2" y1="521.3" x2="49.2" y2="566.2" stroke="#000" stroke-width="1.0" />
<line x1="70.7" y1="542.5" x2="70.7" y2="583.2" stroke="#000" stroke-width="1.0" />
<line x1="250.5" y1="542.5" x2="250.5" y2="565.2" stroke="#000" stroke-width="1.0" />
<line x1="310.1" y1="515.3" x2="310.1" y2="542.3" stroke="#000" stroke-width="1.0" />
<line x1="37" y1="564.3" x2="49.2" y2="564.3" stroke="#000" stroke-width="1.0" />
<polygon points="49.2,564.3 44.2,565.7 44.2,562.9" fill="#000" stroke="none" stroke-width="1.0"/>
<text x="59.1" y="563.16" font-size="5.6" font-weight="bold" text-anchor="middle" textLength="7.5" lengthAdjust="spacingAndGlyphs" fill="#000" stroke="#000" stroke-width="0.3" >.45</text>
<text x="59.1" y="568.96" font-size="5.6" font-weight="bold" text-anchor="middle" textLength="17" lengthAdjust="spacingAndGlyphs" fill="#000" stroke="#000" stroke-width="0.3" >( 11.4 )</text>
<text x="59.1" y="575.96" font-size="5.6" font-weight="bold" text-anchor="middle" textLength="9" lengthAdjust="spacingAndGlyphs" fill="#000" stroke="#000" stroke-width="0.3" >REF</text>
<line x1="70.7" y1="564.2" x2="148.9" y2="564.2" stroke="#000" stroke-width="1.0" />
<polygon points="70.7,564.2 75.7,562.8 75.7,565.6" fill="#000" stroke="none" stroke-width="1.0"/>
<line x1="172.1" y1="564.2" x2="250.5" y2="564.2" stroke="#000" stroke-width="1.0" />
<polygon points="250.5,564.2 245.5,565.6 245.5,562.8" fill="#000" stroke="none" stroke-width="1.0"/>
<text x="160.4" y="563.46" font-size="5.6" font-weight="bold" text-anchor="middle" textLength="10.5" lengthAdjust="spacingAndGlyphs" fill="#000" stroke="#000" stroke-width="0.3" >3.75</text>
<text x="160.4" y="568.66" font-size="5.6" font-weight="bold" text-anchor="middle" textLength="17.5" lengthAdjust="spacingAndGlyphs" fill="#000" stroke="#000" stroke-width="0.3" >( 95.2 )</text>
<line x1="310.1" y1="539.8" x2="364.7" y2="539.8" stroke="#000" stroke-width="1.0" />
<polygon points="310.1,539.8 315.1,538.4 315.1,541.2" fill="#000" stroke="none" stroke-width="1.0"/>
<line x1="398.1" y1="539.8" x2="452.5" y2="539.8" stroke="#000" stroke-width="1.0" />
<polygon points="452.5,539.8 447.5,541.2 447.5,538.4" fill="#000" stroke="none" stroke-width="1.0"/>
<text x="380.5" y="541.76" font-size="5.6" font-weight="bold" text-anchor="middle" textLength="26" lengthAdjust="spacingAndGlyphs" fill="#000" stroke="#000" stroke-width="0.3" >18.00 ± .12</text>
<text x="380.5" y="547.76" font-size="5.6" font-weight="bold" text-anchor="middle" textLength="32" lengthAdjust="spacingAndGlyphs" fill="#000" stroke="#000" stroke-width="0.3" >( 457.2 ±3.1 )</text>
<line x1="70.7" y1="581.1" x2="237.3" y2="581.1" stroke="#000" stroke-width="1.0" />
<polygon points="70.7,581.1 75.7,579.7 75.7,582.5" fill="#000" stroke="none" stroke-width="1.0"/>
<line x1="286.7" y1="581.1" x2="452.5" y2="581.1" stroke="#000" stroke-width="1.0" />
<polygon points="452.5,581.1 447.5,582.5 447.5,579.7" fill="#000" stroke="none" stroke-width="1.0"/>
<text x="240.9" y="582.76" font-size="5.6" font-weight="bold" text-anchor="start" textLength="14.5" lengthAdjust="spacingAndGlyphs" fill="#000" stroke="#000" stroke-width="0.3" >23.00</text>
<text x="259" y="582.76" font-size="5.6" font-weight="bold" text-anchor="start" textLength="24.7" lengthAdjust="spacingAndGlyphs" fill="#000" stroke="#000" stroke-width="0.3" >NOMINAL</text>
<text x="238.5" y="589.16" font-size="5.6" font-weight="bold" text-anchor="start" textLength="20.5" lengthAdjust="spacingAndGlyphs" fill="#000" stroke="#000" stroke-width="0.3" >( 584.2 )</text>
<text x="477" y="572.94" font-size="6.4" font-weight="bold" text-anchor="start" textLength="23.2" lengthAdjust="spacingAndGlyphs" fill="#000" stroke="#000" stroke-width="0.3" >NOTES</text>
<text x="477" y="584.94" font-size="6.4" font-weight="bold" text-anchor="start" textLength="74.4" lengthAdjust="spacingAndGlyphs" fill="#000" stroke="#000" stroke-width="0.3" >1. DIMENSIONS  ARE IN</text>
<text x="567.5" y="581.74" font-size="6.4" font-weight="bold" text-anchor="start" textLength="24.1" lengthAdjust="spacingAndGlyphs" fill="#000" stroke="#000" stroke-width="0.3" >INCHES</text>
<text x="554" y="589.84" font-size="6.4" font-weight="bold" text-anchor="start" textLength="53.1" lengthAdjust="spacingAndGlyphs" fill="#000" stroke="#000" stroke-width="0.3" >( MILLIMETERS )</text>
</g>
<g fill="#ececec" transform="translate(1.6,1.8)"><polygon points="658.6,553.2 663.6,553.2 662.6,566.8 657.8,566.8"/><polygon points="672.2,553.2 677.1,553.2 676.4,566.8 671.5,566.8"/><polygon points="686.1,553.2 691.4,553.2 688.3,587.2 683.2,587.2"/><polygon points="657.8,566.8 688.0,566.8 687.4,573.4 656.6,573.4"/><polygon points="655.9,580.7 688.0,580.7 687.6,587.2 655.3,587.2"/></g>
<g fill="#f7aeb1"><polygon points="658.6,553.2 663.6,553.2 662.6,566.8 657.8,566.8"/><polygon points="672.2,553.2 677.1,553.2 676.4,566.8 671.5,566.8"/><polygon points="686.1,553.2 691.4,553.2 688.3,587.2 683.2,587.2"/><polygon points="657.8,566.8 688.0,566.8 687.4,573.4 656.6,573.4"/><polygon points="655.9,580.7 688.0,580.7 687.6,587.2 655.3,587.2"/></g>
<text x="0" y="0" transform="translate(702.0,589.4) skewX(-6) scale(0.62,1)" font-size="32.8" font-weight="bold" fill="#eeeeee" stroke="#eeeeee" stroke-width="1.2" textLength="143.5" lengthAdjust="spacingAndGlyphs">WUYUE</text>
<text x="0" y="0" transform="translate(700.3,587.4) skewX(-6) scale(0.62,1)" font-size="32.8" font-weight="bold" fill="#bcd6f6" stroke="#bcd6f6" stroke-width="1.2" textLength="143.5" lengthAdjust="spacingAndGlyphs">WUYUE</text>
</svg>
</body></html>
